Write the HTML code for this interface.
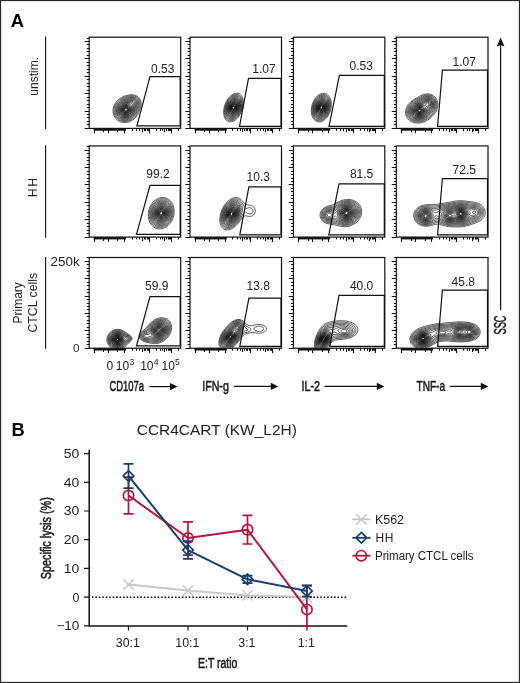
<!DOCTYPE html><html><head><meta charset="utf-8"><style>html,body{margin:0;padding:0;background:#fff;}body{width:520px;height:683px;position:relative;overflow:hidden;font-family:"Liberation Sans", sans-serif;}</style></head><body><svg width="520" height="683" viewBox="0 0 520 683" style="position:absolute;left:0;top:0;will-change:transform" font-family='"Liberation Sans", sans-serif'>
<rect x="0" y="0" width="520" height="683" fill="#fff"/>
<text x="10.8" y="26.9" font-size="18.3" text-anchor="start" font-weight="bold" fill="#000" >A</text>
<text x="11.6" y="435.6" font-size="18.3" text-anchor="start" font-weight="bold" fill="#000" >B</text>
<line x1="45.6" y1="36.6" x2="45.6" y2="129" stroke="#111" stroke-width="1.1"/>
<line x1="45.6" y1="145.3" x2="45.6" y2="237.7" stroke="#111" stroke-width="1.1"/>
<line x1="45.6" y1="256.9" x2="45.6" y2="348.8" stroke="#111" stroke-width="1.1"/>
<text transform="translate(38.4,76.3) rotate(-90)" font-size="12" text-anchor="middle" fill="#222">unstim.</text>
<text transform="translate(37.2,187.6) rotate(-90)" font-size="12.2" text-anchor="middle" fill="#222" textLength="19.2" lengthAdjust="spacing">HH</text>
<text transform="translate(21.6,302.8) rotate(-90)" font-size="12" text-anchor="middle" fill="#222">Primary</text>
<text transform="translate(37.3,302.7) rotate(-90)" font-size="12.3" text-anchor="middle" fill="#222">CTCL cells</text>
<text x="79.6" y="265.8" font-size="12.3" text-anchor="end" font-weight="normal" fill="#222" textLength="29" lengthAdjust="spacingAndGlyphs">250k</text>
<text x="79.4" y="351.9" font-size="11.6" text-anchor="end" font-weight="normal" fill="#222" >0</text>
<text x="106.4" y="369.5" font-size="12" text-anchor="start" font-weight="normal" fill="#222" >0</text>
<text x="115.8" y="369.5" font-size="12" text-anchor="start" font-weight="normal" fill="#222" >10</text>
<text x="129.6" y="365.3" font-size="8.6" text-anchor="start" font-weight="normal" fill="#222" >3</text>
<text x="140.2" y="369.5" font-size="12" text-anchor="start" font-weight="normal" fill="#222" >10</text>
<text x="153.7" y="365.3" font-size="8.6" text-anchor="start" font-weight="normal" fill="#222" >4</text>
<text x="161.5" y="369.5" font-size="12" text-anchor="start" font-weight="normal" fill="#222" >10</text>
<text x="174.9" y="365.3" font-size="8.6" text-anchor="start" font-weight="normal" fill="#222" >5</text>
<path d="M126.7,122.48 123.45,122.55 120.45,121.84 117.95,120.54 115.7,118.49 114.08,115.95 113.14,112.95 112.98,109.95 113.51,106.95 114.64,104.2 116.45,101.53 118.7,99.32 121.45,97.47 124.95,95.91 128.45,94.97 131.7,94.7 134.7,95.12 136.45,95.78 138.2,96.93 139.45,98.23 140.46,99.95 141.01,101.7 141.21,103.7 141.06,105.7 140.49,108.2 138.27,113.7 136.89,115.95 135.2,117.99 133.2,119.75 131.2,121.01 129.2,121.87 126.7,122.48 M126.95,121.45 123.95,121.6 121.2,121.04 118.7,119.81 116.59,117.95 114.97,115.45 114.12,112.7 113.99,109.7 114.53,106.95 115.6,104.45 117.36,101.95 119.45,99.97 121.95,98.32 125.45,96.79 128.95,95.87 131.95,95.65 134.7,96.1 136.45,96.87 137.7,97.77 138.77,98.95 139.61,100.45 140.11,102.2 140.23,103.95 139.52,107.95 137.27,113.45 136.04,115.45 134.62,117.2 132.95,118.74 130.95,120.06 128.95,120.94 126.95,121.45 M125.45,120.71 122.95,120.54 120.45,119.72 118.2,118.23 116.62,116.45 115.38,113.95 114.89,111.45 115.02,108.7 115.75,106.2 116.95,103.95 118.7,101.83 120.95,100 123.45,98.6 126.7,97.35 129.95,96.63 132.7,96.58 134.95,97.13 136.47,97.95 137.81,99.2 138.6,100.45 139.17,102.2 139.31,103.95 139.12,105.7 137.63,110.45 135.46,114.7 132.7,117.8 130.95,119.04 129.2,119.9 127.2,120.49 125.45,120.71 M126.7,119.74 124.2,119.85 121.7,119.31 119.7,118.29 117.91,116.7 116.62,114.7 115.83,112.2 115.74,109.7 116.26,107.2 117.29,104.95 118.77,102.95 120.7,101.2 122.95,99.8 125.95,98.52 129.45,97.56 131.95,97.36 134.2,97.75 135.45,98.31 136.64,99.2 137.46,100.2 138.08,101.45 138.41,102.95 138.41,104.45 137.6,107.95 135.66,112.7 133.45,115.95 131.95,117.36 130.45,118.39 128.45,119.3 126.7,119.74 M126.7,118.96 124.2,119.06 121.95,118.55 119.95,117.48 118.35,115.95 117.27,114.2 116.6,111.95 116.54,109.45 117.07,107.2 118.02,105.2 119.34,103.45 121.2,101.8 123.2,100.57 126.2,99.3 129.45,98.37 131.95,98.15 133.95,98.51 135.2,99.11 136.2,99.94 136.94,100.95 137.43,102.2 137.56,104.7 136.62,108.2 134.76,112.7 132.7,115.64 129.95,117.8 126.7,118.96 M126.7,118.23 124.45,118.35 122.2,117.85 120.45,116.91 118.92,115.45 117.87,113.7 117.3,111.7 117.27,109.45 117.82,107.2 118.7,105.45 119.95,103.84 121.45,102.51 123.45,101.28 126.45,100.04 129.7,99.1 131.95,98.92 133.7,99.26 134.95,99.91 135.78,100.7 136.4,101.7 136.76,102.95 136.62,105.45 135.33,109.45 133.79,112.95 131.95,115.4 129.45,117.27 126.7,118.23 M126.95,117.5 124.95,117.69 122.95,117.37 121.2,116.56 119.63,115.2 118.53,113.45 118,111.7 117.93,109.7 118.44,107.45 119.33,105.7 120.45,104.28 121.95,102.98 123.7,101.94 126.45,100.83 129.95,99.82 131.95,99.68 133.45,99.99 134.45,100.54 135.2,101.27 135.73,102.2 136.01,103.45 135.76,105.7 134.27,110.2 133,112.95 131.45,114.96 129.45,116.52 126.95,117.5 M126.45,116.95 124.45,117.01 122.7,116.59 121.2,115.76 119.87,114.45 119.03,112.95 118.58,111.2 118.59,109.45 119.11,107.45 119.91,105.95 120.95,104.66 122.2,103.58 123.95,102.55 129.95,100.58 131.7,100.43 133.2,100.76 134.66,101.95 135.1,102.95 135.22,103.95 134.89,105.95 133.16,111.2 132.09,113.2 130.45,115.05 128.45,116.34 126.45,116.95 M125.45,116.45 123.95,116.32 122.45,115.8 121.18,114.95 120.11,113.7 119.41,112.2 119.14,110.45 119.32,108.7 119.86,107.2 121.7,104.75 124.45,103.01 130.2,101.32 131.7,101.24 132.95,101.59 134.06,102.7 134.36,104.45 133.01,109.7 132.14,111.95 130.95,113.73 129.3,115.2 127.45,116.11 125.45,116.45 M126.7,115.74 124.95,115.88 123.45,115.59 122.15,114.95 120.95,113.86 120.12,112.45 119.74,110.95 119.79,109.2 120.24,107.7 121.77,105.45 124.2,103.76 126.2,103.05 129.7,102.25 131.2,102.11 132.2,102.33 133.17,103.2 133.43,104.45 132.54,108.95 131.85,111.2 130.87,112.95 129.71,114.2 128.2,115.2 126.7,115.74 M126.45,115.25 124.95,115.34 123.7,115.09 122.45,114.48 121.33,113.45 120.61,112.2 120.29,110.95 120.29,109.45 120.7,107.95 122.2,105.75 124.45,104.25 128.45,103.3 130.45,103.13 131.45,103.34 132.11,103.95 132.34,105.2 131.91,108.95 131.26,111.2 130.4,112.7 129.2,113.95 127.95,114.75 126.45,115.25 M126.45,114.74 125.2,114.84 123.95,114.62 122.7,114.01 121.82,113.2 121.19,112.2 120.81,110.95 120.77,109.7 121.04,108.45 122.45,106.21 124.45,104.83 127.2,104.13 128.95,104.09 130.2,104.33 130.97,104.95 131.34,106.2 131.34,108.7 130.9,110.7 130.14,112.2 129.2,113.3 127.95,114.19 126.45,114.74 M126.45,114.25 124.2,114.18 122.45,113.14 121.75,112.2 121.36,111.2 121.39,108.95 122.41,106.95 124.2,105.5 126.45,104.8 128.7,104.9 129.82,105.45 130.47,106.45 130.77,108.2 130.59,109.95 130.04,111.45 129.14,112.7 127.95,113.66 126.45,114.25 M126.7,113.71 124.95,113.85 123.2,113.15 122.04,111.7 121.71,109.95 122.15,108.2 123.45,106.54 125.2,105.58 127.2,105.33 128.68,105.7 129.57,106.45 130.11,107.7 130.2,109.2 129.87,110.7 129.18,111.95 127.95,113.12 126.7,113.71 M126.7,113.25 125.2,113.43 123.7,112.93 122.55,111.7 122.16,110.2 122.41,108.7 123.37,107.2 124.7,106.27 126.45,105.84 127.95,106.08 128.89,106.7 129.5,107.7 129.71,108.95 129.48,110.45 128.83,111.7 127.95,112.59 126.7,113.25 M125.95,112.98 124.7,112.89 123.45,112.16 122.72,110.95 122.64,109.45 123.12,108.2 124.2,107.05 125.45,106.46 126.95,106.36 127.95,106.71 128.75,107.45 129.16,108.45 129.2,109.7 128.8,110.95 128.06,111.95 126.96,112.7 125.95,112.98 M126.45,112.46 125.2,112.56 124.2,112.2 123.43,111.45 123.01,110.2 123.2,108.95 123.95,107.79 124.95,107.09 126.2,106.79 127.2,106.93 128.06,107.45 128.57,108.2 128.79,109.2 128.65,110.2 128.17,111.2 127.44,111.95 126.45,112.46 M126.45,112.04 125.45,112.17 124.45,111.85 123.78,111.2 123.43,110.2 123.53,109.2 124.1,108.2 124.95,107.54 125.95,107.23 126.95,107.34 127.61,107.7 128.17,108.45 128.35,109.2 128.23,110.2 127.86,110.95 126.45,112.04 M126.2,111.71 125.45,111.77 124.59,111.45 123.97,110.7 123.82,109.95 123.94,109.2 124.45,108.39 125.2,107.85 125.95,107.65 126.7,107.72 127.45,108.18 127.94,109.45 127.45,110.86 126.2,111.71 M126.45,111.22 125.7,111.39 124.95,111.2 124.24,110.2 124.48,108.95 125.7,108.09 126.95,108.33 127.5,109.2 127.28,110.45 126.45,111.22 M125.95,110.98 124.95,110.7 124.6,109.95 124.95,108.94 125.95,108.45 126.74,108.7 127.13,109.7 126.7,110.59 125.95,110.98" fill="none" stroke="#000" stroke-width="0.62" stroke-linejoin="round"/>
<rect x="89.2" y="37.2" width="91.5" height="91.2" fill="none" stroke="#111" stroke-width="1.2"/>
<path d="M84.6,128.5H89.2M86.8,124.5H89.2M86.8,121.5H89.2M86.8,117.5H89.2M86.8,114.5H89.2M84.6,111.5H89.2M86.8,107.5H89.2M86.8,104.5H89.2M86.8,100.5H89.2M86.8,97.5H89.2M84.6,93.5H89.2M86.8,90.5H89.2M86.8,86.5H89.2M86.8,83.5H89.2M86.8,79.5H89.2M84.6,76.5H89.2M86.8,72.5H89.2M86.8,69.5H89.2M86.8,65.5H89.2M86.8,62.5H89.2M84.6,58.5H89.2M86.8,55.5H89.2M86.8,51.5H89.2M86.8,48.5H89.2M86.8,44.5H89.2M84.6,41.5H89.2M86.8,38.5H89.2M94.5,128.4V133.2M108.5,128.4V133.2M124.5,128.4V133.2M149.5,128.4V133.2M171.5,128.4V133.2M103.5,128.4V132.2M117.5,128.4V132.2M132.5,128.4V130.9M136.5,128.4V130.9M139.5,128.4V130.9M142.5,128.4V132.2M144.5,128.4V130.9M145.5,128.4V130.9M147.5,128.4V130.9M148.5,128.4V130.9M156.5,128.4V130.9M160.5,128.4V130.9M162.5,128.4V130.9M164.5,128.4V132.2M166.5,128.4V130.9M168.5,128.4V130.9M169.5,128.4V130.9M170.5,128.4V130.9M178.5,128.4V130.9" stroke="#111" stroke-width="1.1"/>
<rect x="93.7" y="128.4" width="32.3" height="2.3" fill="#111"/>
<path d="M136.9,125.8L150,76.6L180.2,76.6L180.2,125.8Z" fill="none" stroke="#111" stroke-width="1.2"/>
<text x="151.1" y="72.6" font-size="12" text-anchor="start" font-weight="normal" fill="#222" >0.53</text>
<path d="M231.75,121.72 229.75,121.84 227.75,121.25 226.07,119.95 224.87,118.2 224.03,115.95 223.62,113.45 223.63,110.45 224.09,107.45 224.87,104.7 226.15,101.7 227.8,98.95 229.75,96.6 231.75,94.89 234,93.66 236,93.17 238,93.29 239.5,93.89 240.83,94.95 241.94,96.45 242.72,98.2 243.21,100.2 243.43,102.7 242.88,107.7 241.14,112.7 238.52,116.95 237,118.65 235.25,120.11 233.5,121.13 231.75,121.72 M231.25,120.73 229.5,120.66 227.75,119.94 226.38,118.7 225.32,116.95 224.67,114.95 224.34,112.45 224.44,109.7 224.93,106.95 225.89,103.95 227.08,101.45 228.53,99.2 230.25,97.22 232,95.77 234,94.71 236,94.25 237.75,94.4 239.07,94.95 240.31,95.95 241.38,97.45 242.11,99.2 242.67,103.2 242.1,107.95 240.37,112.7 237.75,116.7 236.25,118.24 234.5,119.55 232.75,120.39 231.25,120.73 M231.5,119.71 229.75,119.64 228.25,119.03 227,117.93 226.05,116.45 225.36,114.45 225.05,112.2 225.11,109.7 225.59,106.95 226.39,104.45 227.55,101.95 228.83,99.95 230.5,98.01 232.25,96.58 234,95.67 235.75,95.26 237.25,95.36 238.5,95.83 239.75,96.79 240.63,97.95 241.41,99.7 241.97,103.45 241.43,107.95 239.89,112.2 237.47,115.95 236,117.46 234.5,118.58 233,119.33 231.5,119.71 M232,118.72 230.5,118.79 229,118.34 227.75,117.41 226.72,115.95 226.05,114.2 225.7,111.95 225.74,109.7 226.09,107.45 226.83,104.95 227.83,102.7 229.06,100.7 230.5,98.97 232,97.66 233.75,96.66 235.5,96.21 237,96.3 238.25,96.8 239.25,97.59 240.09,98.7 240.77,100.2 241.32,103.7 240.88,107.7 239.59,111.45 237.45,114.95 234.75,117.52 233.25,118.34 232,118.72 M232.5,117.77 231,117.94 229.5,117.58 228.5,116.93 227.47,115.7 226.78,114.2 226.35,112.2 226.29,110.2 226.56,107.95 227.15,105.7 228.08,103.45 229.08,101.7 230.5,99.87 232,98.5 233.5,97.59 235,97.12 236.5,97.12 237.75,97.55 238.65,98.2 239.47,99.2 240.1,100.45 240.7,103.45 240.41,107.2 239.32,110.7 237.47,113.95 235,116.5 232.5,117.77 M232.5,116.99 231,117.11 229.75,116.77 228.75,116.08 227.87,114.95 227.23,113.45 226.9,111.7 227.14,107.7 227.69,105.7 228.66,103.45 230.98,100.2 232.25,99.1 233.75,98.26 235.25,97.88 236.5,97.97 238.28,98.95 239.07,99.95 239.66,101.2 240.16,104.2 239.83,107.45 238.64,110.95 236.97,113.7 234.75,115.9 232.5,116.99 M232.5,116.26 231.25,116.36 230,116.01 229,115.28 228.25,114.25 227.65,112.7 227.4,111.2 227.64,107.7 228.95,103.95 231.01,100.95 232.25,99.84 233.5,99.09 235,98.65 236.25,98.72 238,99.72 239.17,101.7 239.63,104.45 239.33,107.45 238.34,110.45 236.71,113.2 234.75,115.16 232.5,116.26 M232.75,115.51 231.5,115.65 230.5,115.43 229.5,114.79 228.75,113.85 227.92,111.2 228.11,107.7 229.33,104.2 231.25,101.44 232.5,100.34 233.75,99.65 235,99.35 236,99.42 237.5,100.21 238.64,101.95 239.13,104.45 238.91,107.2 238.07,109.95 236.67,112.45 234.75,114.47 232.75,115.51 M232.25,114.96 231.25,114.93 230.25,114.52 228.94,112.95 228.34,110.45 228.6,107.45 229.68,104.45 231.5,101.87 233.75,100.29 235.75,100.07 237.25,100.89 238.32,102.7 238.68,104.95 238.37,107.7 237.37,110.45 235.89,112.7 234,114.34 232.25,114.96 M232.75,114.26 231,114.17 230.23,113.7 229.5,112.82 228.8,110.45 228.96,107.7 229.88,104.95 231.5,102.52 233.5,101 234.5,100.69 235.5,100.69 236.94,101.45 237.86,102.95 238.23,104.95 238.06,107.2 237.27,109.7 236,111.88 234.5,113.4 232.75,114.26 M232.5,113.73 231,113.49 229.75,112.17 229.19,109.95 229.41,107.45 230.31,104.95 231.92,102.7 233.75,101.46 235.5,101.32 236.75,102.1 237.51,103.45 237.83,105.45 237.56,107.7 236.74,109.95 235.5,111.84 234,113.16 232.5,113.73 M233.25,113 231.75,113.13 231,112.81 230.37,112.2 229.67,110.45 229.68,107.95 230.47,105.45 231.77,103.45 233.5,102.11 235.25,101.87 236.32,102.45 237.1,103.7 237.41,105.2 237.29,107.2 236.69,109.2 235.75,110.89 234.5,112.26 233.25,113 M233.25,112.48 231.75,112.55 230.64,111.7 230.04,110.2 230.04,107.95 230.74,105.7 232,103.77 233.5,102.62 235,102.39 236,102.89 236.72,103.95 237.04,105.45 236.93,107.2 236.42,108.95 235.61,110.45 234.5,111.72 233.25,112.48 M233.25,111.98 232,112.06 230.88,111.2 230.35,109.7 230.39,107.95 230.99,105.95 232,104.32 233.25,103.25 234.75,102.89 235.75,103.36 236.34,104.2 236.66,105.45 236.59,107.2 236.16,108.7 235.37,110.2 234.25,111.41 233.25,111.98 M233.25,111.51 232,111.51 231.1,110.7 230.69,109.45 230.76,107.7 231.34,105.95 232.36,104.45 233.5,103.59 234.75,103.42 235.5,103.8 236.09,104.7 236.34,105.95 236.26,107.2 235.82,108.7 235.13,109.95 234.25,110.92 233.25,111.51 M233.25,111.05 232.25,111.06 231.46,110.45 231.02,109.2 231.08,107.7 231.56,106.2 232.5,104.8 233.5,104.05 234.5,103.88 235.25,104.22 235.76,104.95 235.99,105.95 235.94,107.2 235,109.58 234.25,110.45 233.25,111.05 M233.5,110.5 232.5,110.63 231.75,110.1 231.34,108.95 231.38,107.7 231.77,106.45 232.58,105.2 233.5,104.5 234.5,104.37 235.08,104.7 235.5,105.37 235.63,107.2 234.88,109.2 233.5,110.5 M233,110.21 232.25,109.99 231.84,109.45 231.63,108.45 231.73,107.45 232.75,105.49 233.5,104.93 234.25,104.8 234.75,105.01 235.22,105.7 235.29,107.45 234.5,109.22 233.75,109.93 233,110.21 M233.25,109.74 232.68,109.7 232.15,109.2 231.94,108.45 232.03,107.45 233,105.69 233.75,105.26 234.25,105.27 234.92,105.95 235,107.45 234.32,108.95 233.25,109.74 M233.5,109.24 233,109.32 232.5,109.02 232.26,107.7 232.94,106.2 234,105.68 234.62,106.2 234.75,107.2 234.31,108.45 233.5,109.24 M233.5,108.83 232.75,108.69 232.55,107.7 233.13,106.45 234,106.13 234.42,106.7 234.42,107.45 234,108.41 233.5,108.83" fill="none" stroke="#000" stroke-width="0.62" stroke-linejoin="round"/>
<rect x="190" y="37.2" width="91.5" height="91.2" fill="none" stroke="#111" stroke-width="1.2"/>
<path d="M185.4,128.5H190M187.6,124.5H190M187.6,121.5H190M187.6,117.5H190M187.6,114.5H190M185.4,111.5H190M187.6,107.5H190M187.6,104.5H190M187.6,100.5H190M187.6,97.5H190M185.4,93.5H190M187.6,90.5H190M187.6,86.5H190M187.6,83.5H190M187.6,79.5H190M185.4,76.5H190M187.6,72.5H190M187.6,69.5H190M187.6,65.5H190M187.6,62.5H190M185.4,58.5H190M187.6,55.5H190M187.6,51.5H190M187.6,48.5H190M187.6,44.5H190M185.4,41.5H190M187.6,38.5H190M195.5,128.4V133.2M209.5,128.4V133.2M225.5,128.4V133.2M250.5,128.4V133.2M272.5,128.4V133.2M204.5,128.4V132.2M218.5,128.4V132.2M232.5,128.4V130.9M237.5,128.4V130.9M240.5,128.4V130.9M242.5,128.4V132.2M244.5,128.4V130.9M246.5,128.4V130.9M247.5,128.4V130.9M249.5,128.4V130.9M257.5,128.4V130.9M260.5,128.4V130.9M263.5,128.4V130.9M265.5,128.4V132.2M267.5,128.4V130.9M268.5,128.4V130.9M270.5,128.4V130.9M271.5,128.4V130.9M279.5,128.4V130.9" stroke="#111" stroke-width="1.1"/>
<rect x="194.5" y="128.4" width="32.3" height="2.3" fill="#111"/>
<path d="M239.5,126.3L248.5,78.3L281,78.3L281,126.3Z" fill="none" stroke="#111" stroke-width="1.2"/>
<text x="252.3" y="72.5" font-size="12" text-anchor="start" font-weight="normal" fill="#222" >1.07</text>
<path d="M319.65,121.97 317.65,121.81 315.9,121.09 314.21,119.7 312.96,117.95 312,115.7 311.45,113.2 311.28,110.2 311.57,107.2 312.29,104.2 313.36,101.45 314.76,98.95 316.53,96.7 318.65,94.86 320.65,93.77 322.65,93.26 324.65,93.33 326.4,93.94 327.9,95.01 329.15,96.46 330.21,98.45 330.86,100.45 331.26,102.95 331.3,105.45 330.99,108.2 330.32,110.95 329.49,113.2 328.34,115.45 326.77,117.7 325.15,119.4 323.4,120.7 321.65,121.54 319.65,121.97 M320.65,120.75 318.65,120.85 316.9,120.36 315.4,119.4 313.93,117.7 312.93,115.7 312.27,113.2 312.05,110.7 312.21,107.95 312.76,105.2 313.73,102.45 315.04,99.95 316.52,97.95 318.15,96.36 320.15,95.07 322.15,94.42 324.15,94.38 325.65,94.81 327.15,95.75 328.4,97.1 329.33,98.7 330.05,100.7 330.43,102.7 330.56,104.95 330.36,107.45 329.1,112.2 326.91,116.2 325.43,117.95 323.9,119.26 322.4,120.15 320.65,120.75 M320.65,119.75 318.9,119.84 317.15,119.35 315.65,118.32 314.5,116.95 313.52,114.95 312.99,112.95 312.75,110.45 312.93,107.7 313.54,104.95 314.48,102.45 315.74,100.2 317.1,98.45 318.65,97.02 320.4,95.96 322.15,95.41 323.9,95.39 325.4,95.83 326.65,96.62 327.7,97.7 328.63,99.2 329.31,100.95 329.72,102.95 329.71,107.2 328.56,111.7 326.55,115.45 325.15,117.12 323.65,118.4 322.15,119.27 320.65,119.75 M321.15,118.71 319.4,118.92 317.9,118.63 316.4,117.78 315.17,116.45 314.34,114.95 313.71,112.95 313.42,110.7 313.51,108.2 313.98,105.7 314.74,103.45 315.74,101.45 317.15,99.46 318.65,97.99 320.4,96.88 322.15,96.34 323.65,96.31 324.9,96.65 326.15,97.38 327.15,98.38 328,99.7 329.02,102.95 329.1,106.95 328.08,111.2 326.25,114.7 323.9,117.25 322.65,118.09 321.15,118.71 M320.65,117.97 319.15,118.02 317.65,117.56 316.4,116.66 315.43,115.45 314.7,113.95 314.22,112.2 314.02,110.2 314.14,107.95 314.52,105.95 315.27,103.7 316.3,101.7 317.59,99.95 318.9,98.69 320.4,97.74 321.9,97.24 323.4,97.18 324.65,97.5 325.81,98.2 326.78,99.2 327.55,100.45 328.48,103.7 328.47,107.2 327.55,110.95 325.84,114.2 323.4,116.74 321.9,117.6 320.65,117.97 M320.4,117.21 319.15,117.18 317.9,116.77 316.78,115.95 315.8,114.7 315.13,113.2 314.71,111.45 314.58,109.45 314.76,107.45 315.99,103.45 317.96,100.45 319.15,99.33 320.65,98.42 322.15,98 323.4,98.01 324.65,98.41 325.65,99.09 327.16,101.2 327.95,104.2 327.85,107.7 326.85,111.2 325.1,114.2 322.9,116.26 321.65,116.9 320.4,117.21 M320.4,116.46 319.15,116.4 317.9,115.89 316.9,115.05 316.15,113.98 315.51,112.45 315.2,110.95 315.28,107.45 316.33,103.95 318.28,100.95 320.65,99.17 321.9,98.78 323.15,98.75 324.15,99.02 325.15,99.63 326.7,101.7 327.42,104.45 327.33,107.7 326.51,110.7 324.79,113.7 322.65,115.66 320.4,116.46 M320.65,115.73 319.4,115.7 318.4,115.36 317.4,114.61 316.65,113.62 315.73,110.95 315.76,107.45 316.75,104.2 318.55,101.45 319.65,100.47 320.9,99.76 322.15,99.45 323.15,99.49 324.9,100.32 326.28,102.2 326.93,104.7 326.85,107.7 325.99,110.7 324.52,113.2 322.65,114.94 320.65,115.73 M321.15,114.97 319.9,115.09 318.9,114.84 317.9,114.2 317.24,113.45 316.23,110.95 316.15,107.95 317.02,104.7 318.56,102.2 320.65,100.53 321.9,100.14 322.9,100.14 324.64,100.95 325.78,102.45 326.44,104.7 326.46,107.2 325.8,109.95 324.65,112.2 322.9,114.08 321.15,114.97 M320.4,114.46 318.65,113.99 317.27,112.45 316.56,109.95 316.69,107.2 317.62,104.45 319.15,102.27 320.9,101.04 321.9,100.76 322.9,100.79 324.4,101.54 325.54,103.2 326.06,105.45 325.91,107.95 325.13,110.45 323.89,112.45 322.15,113.94 320.4,114.46 M321.15,113.76 319.4,113.69 317.9,112.48 317.08,110.45 316.99,107.95 317.61,105.45 318.92,103.2 320.65,101.75 321.65,101.39 322.65,101.37 324.15,102.09 325.11,103.45 325.6,105.2 325.59,107.45 325.01,109.7 324.09,111.45 322.65,113.01 321.15,113.76 M321.15,113.2 320.15,113.28 319.4,113.07 318.15,111.95 317.46,110.2 317.38,107.95 318.03,105.45 319.15,103.58 320.65,102.31 322.4,101.92 323.65,102.4 324.65,103.6 325.17,105.2 325.23,107.2 324.78,109.2 323.77,111.2 322.61,112.45 321.15,113.2 M320.9,112.72 319.4,112.45 318.4,111.45 317.79,109.7 317.78,107.7 318.32,105.7 319.4,103.91 320.9,102.72 322.4,102.47 323.65,103.08 324.44,104.2 324.84,105.7 324.79,107.7 324.3,109.45 323.4,111.04 322.15,112.23 320.9,112.72 M320.9,112.21 319.65,111.99 318.63,110.95 318.14,109.45 318.17,107.45 318.83,105.45 319.9,103.96 321.15,103.13 322.4,103.01 323.4,103.53 324.15,104.62 324.49,105.95 324.43,107.7 324.02,109.2 323.15,110.74 322.15,111.7 320.9,112.21 M320.9,111.71 319.72,111.45 318.9,110.55 318.47,109.2 318.51,107.45 318.97,105.95 319.9,104.51 320.9,103.73 322.15,103.49 323.15,103.95 323.85,104.95 324.15,106.2 324.09,107.7 323.65,109.2 322.9,110.46 321.9,111.36 320.9,111.71 M320.9,111.24 319.9,111 319.18,110.2 318.8,108.95 318.84,107.45 319.33,105.95 320.15,104.78 321.15,104.09 322.15,103.99 322.9,104.35 323.52,105.2 323.82,106.45 323.76,107.7 323.4,108.96 322.65,110.2 321.9,110.87 320.9,111.24 M321.15,110.74 320.15,110.6 319.5,109.95 319.14,108.95 319.13,107.7 319.46,106.45 320.15,105.3 320.9,104.67 321.9,104.43 322.65,104.73 323.15,105.34 323.45,106.2 323.48,107.45 322.65,109.64 321.9,110.4 321.15,110.74 M321.4,110.22 320.65,110.29 319.9,109.82 319.49,108.95 319.44,107.7 319.8,106.45 320.4,105.54 321.15,105 321.9,104.9 322.4,105.1 322.91,105.7 323.17,107.45 322.56,109.2 321.4,110.22 M321.4,109.79 320.65,109.83 320.15,109.48 319.72,107.95 319.91,106.95 320.4,106.05 320.9,105.57 321.65,105.33 322.15,105.46 322.61,105.95 322.88,107.2 322.4,108.86 321.4,109.79 M321.65,109.22 320.9,109.43 320.45,109.2 320.02,107.95 320.5,106.45 321,105.95 321.65,105.76 322.32,106.2 322.58,107.2 322.4,108.2 321.65,109.22 M321.15,109.01 320.65,108.83 320.4,108.45 320.37,107.45 320.9,106.46 321.65,106.2 322.18,106.7 322.24,107.7 321.9,108.51 321.15,109.01" fill="none" stroke="#000" stroke-width="0.62" stroke-linejoin="round"/>
<rect x="293.4" y="37.2" width="91.4" height="91.2" fill="none" stroke="#111" stroke-width="1.2"/>
<path d="M288.8,128.5H293.4M291,124.5H293.4M291,121.5H293.4M291,117.5H293.4M291,114.5H293.4M288.8,111.5H293.4M291,107.5H293.4M291,104.5H293.4M291,100.5H293.4M291,97.5H293.4M288.8,93.5H293.4M291,90.5H293.4M291,86.5H293.4M291,83.5H293.4M291,79.5H293.4M288.8,76.5H293.4M291,72.5H293.4M291,69.5H293.4M291,65.5H293.4M291,62.5H293.4M288.8,58.5H293.4M291,55.5H293.4M291,51.5H293.4M291,48.5H293.4M291,44.5H293.4M288.8,41.5H293.4M291,38.5H293.4M298.5,128.4V133.2M312.5,128.4V133.2M328.5,128.4V133.2M353.5,128.4V133.2M375.5,128.4V133.2M308.5,128.4V132.2M322.5,128.4V132.2M336.5,128.4V130.9M340.5,128.4V130.9M343.5,128.4V130.9M346.5,128.4V132.2M348.5,128.4V130.9M349.5,128.4V130.9M351.5,128.4V130.9M352.5,128.4V130.9M360.5,128.4V130.9M364.5,128.4V130.9M367.5,128.4V130.9M369.5,128.4V132.2M370.5,128.4V130.9M372.5,128.4V130.9M373.5,128.4V130.9M374.5,128.4V130.9M382.5,128.4V130.9" stroke="#111" stroke-width="1.1"/>
<rect x="297.9" y="128.4" width="32.3" height="2.3" fill="#111"/>
<path d="M329,126.3L339.4,75.4L384.3,75.4L384.3,126.3Z" fill="none" stroke="#111" stroke-width="1.2"/>
<text x="349.6" y="69.6" font-size="12" text-anchor="start" font-weight="normal" fill="#222" >0.53</text>
<path d="M420.05,122.95 416.8,123.09 413.55,122.53 410.55,121.2 408.13,119.2 406.46,116.7 405.62,113.95 405.61,110.7 406.43,107.7 408.28,104.45 411.05,101.52 414.05,99.33 419.8,96.09 423.05,94.6 425.8,93.89 428.55,93.83 431.3,94.5 433.3,95.57 434.92,96.95 436.27,98.7 437.25,100.7 437.82,102.95 437.95,105.2 437.65,107.45 436.95,109.7 435.82,111.95 434.24,114.2 432.23,116.45 429.8,118.61 427.3,120.34 425.05,121.5 422.55,122.42 420.05,122.95 M420.3,121.95 417.05,122.13 414.05,121.62 411.3,120.42 409.05,118.59 407.45,116.2 406.69,113.7 406.64,110.95 407.42,107.95 409.13,104.95 411.8,102.15 414.8,100.04 420.55,96.86 423.3,95.56 426.05,94.82 428.55,94.77 431.05,95.4 432.8,96.34 434.3,97.63 435.51,99.2 436.36,100.95 436.88,102.95 437.01,104.95 436.77,106.95 436.18,108.95 435.22,110.95 433.69,113.2 431.55,115.64 429.3,117.71 427.05,119.34 424.8,120.57 422.55,121.43 420.3,121.95 M419.05,121.22 416.05,121.12 413.3,120.36 411.05,119.07 409.3,117.31 408.14,115.2 407.59,112.7 407.74,110.2 408.67,107.45 410.48,104.7 413.05,102.29 415.8,100.52 422.55,96.89 424.8,96 427.05,95.6 429.3,95.77 431.3,96.45 432.8,97.4 434.12,98.7 435.1,100.2 435.79,101.95 436.11,103.7 436.08,105.7 435.66,107.7 434.96,109.45 433.77,111.45 432.01,113.7 429.8,116.01 427.55,117.9 425.3,119.33 423.3,120.25 421.3,120.87 419.05,121.22 M420.3,120.25 417.55,120.43 414.8,119.97 412.55,118.99 410.55,117.36 409.15,115.2 408.55,112.95 408.61,110.45 409.38,107.95 411.14,105.2 413.55,102.95 415.8,101.5 423.05,97.61 425.05,96.79 427.05,96.42 429.05,96.54 430.8,97.1 432.05,97.83 433.29,98.95 434.2,100.2 434.89,101.7 435.25,103.2 435.33,104.95 435.08,106.7 434.48,108.45 433.53,110.2 432.06,112.2 427.8,116.62 424.05,119.05 420.3,120.25 M420.3,119.48 417.55,119.66 415.05,119.21 412.8,118.16 411.12,116.7 409.89,114.7 409.38,112.7 409.45,110.45 410.26,107.95 411.94,105.45 414.3,103.34 423.8,98.14 425.55,97.46 427.3,97.18 429.05,97.31 430.55,97.81 432.8,99.51 433.64,100.7 434.28,102.2 434.56,105.2 433.72,108.2 431.35,111.7 427.05,116.2 423.8,118.34 420.3,119.48 M418.55,118.96 416.3,118.77 414.3,118.12 412.55,116.99 411.2,115.45 410.41,113.7 410.13,111.7 410.48,109.45 411.37,107.45 412.8,105.56 414.8,103.86 420.55,100.94 424.55,98.62 426.3,98.03 427.8,97.89 429.3,98.1 430.8,98.74 431.8,99.49 432.8,100.66 433.79,103.2 433.72,105.95 432.59,108.7 428.51,113.7 425.55,116.46 422.05,118.31 418.55,118.96 M419.55,118.23 417.3,118.24 415.3,117.77 413.55,116.84 412.13,115.45 411.2,113.7 410.88,111.95 411.08,109.95 411.87,107.95 413.34,105.95 415.3,104.32 421.29,101.45 424.8,99.29 426.05,98.81 427.55,98.58 429.05,98.75 430.3,99.24 432.05,100.76 433.06,102.95 433.13,105.45 432.2,107.95 427.72,113.45 425.55,115.6 422.8,117.32 419.55,118.23 M420.3,117.49 418.05,117.67 416.05,117.33 414.3,116.52 412.83,115.2 411.96,113.7 411.58,111.95 411.71,110.2 412.46,108.2 413.8,106.37 415.8,104.73 421.55,102.19 425.3,99.82 427.8,99.25 430.05,99.85 431.57,101.2 432.46,103.2 432.46,105.45 431.69,107.45 425.33,114.95 423.05,116.52 420.3,117.49 M420.05,116.96 418.05,117.08 416.3,116.76 414.55,115.91 413.3,114.71 412.5,113.2 412.23,111.7 412.42,109.95 413.16,108.2 414.54,106.45 416.3,105.1 418.05,104.23 422.05,102.79 425.8,100.33 427.8,99.9 429.8,100.45 431.05,101.56 431.81,103.2 431.86,105.2 431.2,106.95 424.8,114.62 422.55,116.13 420.05,116.96 M419.8,116.45 418.05,116.52 416.3,116.15 414.8,115.33 413.71,114.2 413.01,112.7 412.85,111.2 413.11,109.7 413.82,108.2 415.05,106.72 416.55,105.58 418.55,104.65 422.45,103.45 426.05,100.95 427.8,100.56 429.55,101.06 430.55,101.97 431.22,103.45 431.2,105.2 430.58,106.7 427.8,109.75 425.77,112.7 424.42,114.2 422.3,115.66 419.8,116.45 M419.55,115.97 417.8,115.96 416.3,115.55 415.05,114.79 414.1,113.7 413.56,112.45 413.44,110.95 413.79,109.45 414.46,108.2 415.56,106.95 417.05,105.89 419.05,105.06 423.05,104.06 426.3,101.59 427.8,101.25 429.3,101.7 430.24,102.7 430.63,103.95 430.52,105.2 429.92,106.45 427.3,109.06 425.23,112.45 423.9,113.95 421.8,115.33 419.55,115.97 M419.55,115.47 418.05,115.48 416.55,115.07 415.52,114.45 414.61,113.45 414.09,112.2 414,110.95 414.36,109.45 415.05,108.24 416.55,106.78 418.3,105.85 423.8,104.72 425.94,102.7 426.8,102.18 428.05,102.02 429.05,102.44 429.67,103.2 429.9,103.95 429.83,104.95 429.36,105.95 426.6,108.45 425.04,111.7 423.7,113.45 421.8,114.8 419.55,115.47 M419.8,114.97 418.3,115.02 417.05,114.73 416.05,114.19 415.1,113.2 414.65,112.2 414.52,110.95 414.8,109.7 415.49,108.45 417.05,107 419.05,106.1 420.8,105.81 424.8,105.8 426.8,103.23 427.55,102.96 428.46,103.2 428.96,103.95 428.8,105.1 428.05,105.93 426.3,106.7 425.8,107.2 424.98,110.45 423.92,112.45 422.05,114.13 419.8,114.97 M420.05,114.47 417.8,114.46 415.97,113.45 415.41,112.7 415.07,111.7 415.31,109.7 416.55,107.95 418.3,106.84 420.55,106.35 423.01,106.7 424.05,107.38 424.47,108.2 424.55,109.45 424.19,110.95 423.51,112.2 422.55,113.23 421.3,114.04 420.05,114.47 M420.3,113.97 418.3,114.1 416.8,113.51 415.73,112.2 415.54,110.7 416.24,108.95 417.55,107.71 419.3,106.98 421.3,106.88 422.55,107.26 423.41,107.95 423.86,108.95 423.89,109.95 423.54,111.2 422.73,112.45 421.55,113.42 420.3,113.97 M419.55,113.7 418.05,113.6 416.8,112.91 416.08,111.7 416.11,110.2 417,108.7 418.3,107.76 420.05,107.3 421.55,107.47 422.49,107.95 423.1,108.7 423.34,109.7 423.21,110.7 422.75,111.7 421.86,112.7 420.8,113.36 419.55,113.7 M420.05,113.2 418.8,113.31 417.55,112.91 416.67,111.95 416.46,110.7 416.92,109.45 417.8,108.52 419.05,107.9 420.55,107.74 421.55,108.01 422.3,108.56 422.69,109.2 422.81,110.2 422.04,111.95 421.18,112.7 420.05,113.2 M420.3,112.72 419.05,112.93 418.05,112.69 417.3,112.09 416.92,111.2 417.01,110.2 417.55,109.28 418.55,108.51 419.55,108.18 420.55,108.18 421.35,108.45 421.95,108.95 422.29,109.7 422.3,110.45 421.9,111.45 421.22,112.2 420.3,112.72 M419.8,112.48 418.8,112.5 418.05,112.2 417.44,111.45 417.34,110.7 417.56,109.95 418.3,109.1 419.3,108.63 420.3,108.57 421.52,109.2 421.84,110.45 421.2,111.7 419.8,112.48 M420.05,112.02 418.55,112 418.05,111.62 417.77,110.95 418.2,109.7 419.55,108.96 420.8,109.18 421.37,109.95 421.11,111.2 420.05,112.02 M419.8,111.73 419.05,111.76 418.55,111.52 418.18,110.7 418.73,109.7 419.8,109.32 420.73,109.7 420.97,110.45 420.63,111.2 419.8,111.73" fill="none" stroke="#000" stroke-width="0.62" stroke-linejoin="round"/>
<rect x="396.3" y="37.2" width="91.7" height="91.2" fill="none" stroke="#111" stroke-width="1.2"/>
<path d="M391.7,128.5H396.3M393.9,124.5H396.3M393.9,121.5H396.3M393.9,117.5H396.3M393.9,114.5H396.3M391.7,111.5H396.3M393.9,107.5H396.3M393.9,104.5H396.3M393.9,100.5H396.3M393.9,97.5H396.3M391.7,93.5H396.3M393.9,90.5H396.3M393.9,86.5H396.3M393.9,83.5H396.3M393.9,79.5H396.3M391.7,76.5H396.3M393.9,72.5H396.3M393.9,69.5H396.3M393.9,65.5H396.3M393.9,62.5H396.3M391.7,58.5H396.3M393.9,55.5H396.3M393.9,51.5H396.3M393.9,48.5H396.3M393.9,44.5H396.3M391.7,41.5H396.3M393.9,38.5H396.3M401.5,128.4V133.2M415.5,128.4V133.2M431.5,128.4V133.2M456.5,128.4V133.2M478.5,128.4V133.2M411.5,128.4V132.2M425.5,128.4V132.2M439.5,128.4V130.9M443.5,128.4V130.9M446.5,128.4V130.9M449.5,128.4V132.2M451.5,128.4V130.9M452.5,128.4V130.9M454.5,128.4V130.9M455.5,128.4V130.9M463.5,128.4V130.9M467.5,128.4V130.9M469.5,128.4V130.9M472.5,128.4V132.2M473.5,128.4V130.9M475.5,128.4V130.9M476.5,128.4V130.9M477.5,128.4V130.9M485.5,128.4V130.9" stroke="#111" stroke-width="1.1"/>
<rect x="400.8" y="128.4" width="32.3" height="2.3" fill="#111"/>
<path d="M437.6,126.3L442.4,70.2L487.5,70.2L487.5,126.3Z" fill="none" stroke="#111" stroke-width="1.2"/>
<text x="452.6" y="65.8" font-size="12" text-anchor="start" font-weight="normal" fill="#222" >1.07</text>
<path d="M161.2,228.9 158.45,228.92 155.95,228.28 153.7,227.06 151.62,225.15 150.08,222.9 148.85,219.9 148.26,216.9 148.21,213.65 148.77,210.15 149.79,207.15 151.25,204.4 153.2,201.89 155.7,199.71 158.2,198.32 160.95,197.53 163.45,197.43 165.7,197.85 167.95,198.85 169.95,200.38 171.65,202.4 172.88,204.65 173.79,207.4 174.19,210.15 174.18,212.9 173.77,215.65 172.86,218.65 171.52,221.4 169.95,223.65 168.03,225.65 165.95,227.18 163.7,228.27 161.2,228.9 M161.45,227.66 158.95,227.75 156.7,227.26 154.45,226.12 152.5,224.4 150.93,222.15 149.87,219.65 149.29,216.9 149.19,213.9 149.6,210.9 150.54,207.9 151.81,205.4 153.68,202.9 155.7,201.05 158.2,199.56 160.7,198.78 162.95,198.62 165.2,198.98 167.2,199.82 169.06,201.15 170.62,202.9 171.81,204.9 172.64,207.15 173.13,209.65 173.22,212.4 172.88,215.15 172.09,217.9 171.08,220.15 169.64,222.4 167.95,224.29 165.95,225.88 163.7,227.05 161.45,227.66 M160.45,226.66 158.2,226.5 156.2,225.84 154.2,224.55 152.64,222.9 151.31,220.65 150.53,218.4 150.11,215.65 150.18,212.9 150.72,210.15 151.64,207.65 153.08,205.15 154.77,203.15 156.7,201.56 158.95,200.39 161.2,199.81 163.45,199.78 165.45,200.25 167.2,201.11 168.8,202.4 170.22,204.15 171.27,206.15 171.97,208.4 172.3,210.9 172.23,213.4 171.78,215.9 170.91,218.4 169.72,220.65 168.2,222.65 166.45,224.29 164.45,225.57 162.45,226.34 160.45,226.66 M161.95,225.43 159.7,225.64 157.7,225.3 155.95,224.54 154.16,223.15 152.77,221.4 151.78,219.4 151.12,216.9 150.94,214.4 151.17,211.9 151.84,209.4 152.98,206.9 154.45,204.8 156.2,203.08 158.2,201.78 160.2,201.03 162.45,200.76 164.45,201.03 166.2,201.72 167.7,202.75 169.04,204.15 170.13,205.9 170.84,207.65 171.34,209.9 171.46,212.15 171.24,214.4 170.68,216.65 169.87,218.65 168.68,220.65 167.22,222.4 165.7,223.7 163.95,224.74 161.95,225.43 M160.7,224.66 158.7,224.55 156.95,223.98 155.27,222.9 153.95,221.53 152.81,219.65 152.11,217.65 151.76,215.4 151.79,213.15 152.25,210.65 153.09,208.4 154.24,206.4 155.7,204.65 157.45,203.23 159.2,202.31 161.2,201.79 162.95,201.75 164.7,202.12 166.2,202.83 167.7,204.02 168.83,205.4 169.76,207.15 170.38,209.15 170.65,211.15 170.6,213.4 169.58,217.4 168.55,219.4 167.26,221.15 165.7,222.63 164.2,223.62 162.45,224.34 160.7,224.66 M161.45,223.69 159.7,223.77 157.95,223.41 156.41,222.65 154.95,221.4 153.86,219.9 152.99,217.9 152.55,215.9 152.48,213.65 152.81,211.4 153.45,209.4 154.47,207.4 155.7,205.77 157.2,204.39 158.95,203.33 160.7,202.76 162.45,202.61 163.95,202.84 165.45,203.43 166.84,204.4 167.98,205.65 168.88,207.15 169.53,208.9 169.92,212.65 169.67,214.65 169.09,216.65 167.31,219.9 164.7,222.37 162.95,223.28 161.45,223.69 M160.95,222.92 159.2,222.86 157.7,222.4 156.2,221.47 155.14,220.4 154.18,218.9 153.52,217.15 153.18,215.15 153.21,213.15 153.57,211.15 154.3,209.15 155.3,207.4 156.45,206.02 157.95,204.77 159.45,203.97 160.95,203.54 162.7,203.47 164.2,203.8 165.45,204.39 166.7,205.38 167.7,206.6 168.98,209.65 169.2,213.15 168.36,216.65 166.45,219.84 163.95,221.94 162.45,222.61 160.95,222.92 M160.7,222.16 159.2,222.06 157.7,221.53 156.45,220.68 155.45,219.59 154.61,218.15 154.09,216.65 153.82,214.9 153.87,212.9 154.89,209.4 155.75,207.9 156.95,206.48 158.2,205.46 159.7,204.67 161.2,204.28 162.7,204.26 163.95,204.55 165.2,205.16 166.2,205.95 167.2,207.17 167.96,208.65 168.4,210.15 168.54,213.4 167.67,216.65 165.94,219.4 163.45,221.39 161.95,221.97 160.7,222.16 M160.95,221.41 159.45,221.35 158.2,220.95 156.95,220.16 155.98,219.15 155.22,217.9 154.68,216.4 154.45,213.15 155.32,209.9 157.2,207.13 158.45,206.09 159.7,205.42 160.95,205.05 162.45,204.99 163.7,205.25 164.95,205.87 166.7,207.65 167.75,210.15 167.96,213.15 167.23,216.15 165.7,218.72 163.45,220.62 160.95,221.41 M161.45,220.65 160.2,220.73 158.95,220.49 157.7,219.87 156.7,218.98 155.39,216.65 154.99,213.65 155.62,210.65 157.29,207.9 158.45,206.85 159.7,206.13 160.95,205.75 162.2,205.67 164.45,206.37 166.08,207.9 167.13,210.15 167.4,212.9 166.82,215.65 165.6,217.9 163.7,219.72 161.45,220.65 M161.7,219.94 159.45,219.94 157.45,218.84 156.65,217.9 156,216.65 155.52,213.9 156,211.15 157.45,208.58 159.45,206.93 160.7,206.46 161.95,206.32 163.95,206.85 165.5,208.15 166.54,210.15 166.87,212.65 166.43,215.15 165.28,217.4 163.7,219 161.7,219.94 M161.2,219.41 159.2,219.2 157.39,217.9 156.33,215.9 156.06,213.4 156.65,210.9 157.95,208.82 159.95,207.34 161.95,206.95 163.7,207.43 165.2,208.74 166.12,210.65 166.35,212.9 165.89,215.15 164.7,217.29 162.95,218.81 161.2,219.41 M161.7,218.72 159.95,218.78 158.19,217.9 156.97,216.15 156.54,213.9 156.97,211.4 158.12,209.4 159.7,208.08 161.7,207.55 163.45,207.97 164.7,209.01 165.57,210.65 165.86,212.65 165.55,214.65 164.7,216.44 163.34,217.9 161.7,218.72 M161.45,218.21 159.7,218.12 158.22,217.15 157.33,215.65 157.01,213.65 157.38,211.65 158.45,209.76 159.95,208.55 161.7,208.12 163.2,208.49 164.45,209.57 165.2,211.15 165.39,212.9 165.06,214.65 164.14,216.4 162.95,217.55 161.45,218.21 M161.45,217.66 159.95,217.61 158.7,216.88 157.75,215.4 157.46,213.65 157.76,211.9 158.74,210.15 160.2,209 161.7,208.67 162.95,208.99 164.05,209.9 164.7,211.15 164.93,212.9 164.67,214.4 163.93,215.9 162.7,217.12 161.45,217.66 M161.2,217.17 159.95,217.05 158.72,216.15 158.08,214.9 157.91,213.4 158.22,211.9 159.12,210.4 160.45,209.43 161.7,209.21 162.95,209.6 163.8,210.4 164.36,211.65 164.48,213.15 164.12,214.65 163.45,215.8 162.45,216.71 161.2,217.17 M161.2,216.66 160.2,216.58 159.15,215.9 158.55,214.9 158.33,213.4 158.67,211.9 159.45,210.69 160.45,209.96 161.7,209.72 162.7,210.05 163.45,210.75 163.97,211.9 164.06,213.15 163.77,214.4 163.2,215.41 162.2,216.31 161.2,216.66 M161.2,216.16 160.2,216.04 159.35,215.4 158.85,214.4 158.76,213.15 159.12,211.9 159.7,211.06 160.7,210.37 161.7,210.23 162.45,210.48 163.16,211.15 163.58,212.15 163.65,213.15 163.43,214.15 162.87,215.15 162.2,215.77 161.2,216.16 M161.2,215.68 160.45,215.61 159.7,215.1 159.3,214.4 159.15,213.4 159.34,212.4 159.95,211.4 160.7,210.87 161.45,210.71 162.2,210.9 162.78,211.4 163.15,212.15 163.25,213.15 162.53,214.9 161.2,215.68 M161.2,215.2 160.45,215.09 159.95,214.69 159.59,213.9 159.56,213.15 160.2,211.74 161.45,211.19 162.45,211.72 162.85,213.15 162.41,214.4 161.2,215.2 M161.45,214.67 160.45,214.54 159.95,213.65 160.2,212.39 161.2,211.67 162,211.9 162.47,212.9 162.2,214.01 161.45,214.67" fill="none" stroke="#000" stroke-width="0.62" stroke-linejoin="round"/>
<rect x="89.2" y="145.9" width="91.5" height="91.2" fill="none" stroke="#111" stroke-width="1.2"/>
<path d="M84.6,237.5H89.2M86.8,233.5H89.2M86.8,230.5H89.2M86.8,226.5H89.2M86.8,223.5H89.2M84.6,219.5H89.2M86.8,216.5H89.2M86.8,212.5H89.2M86.8,209.5H89.2M86.8,205.5H89.2M84.6,202.5H89.2M86.8,198.5H89.2M86.8,195.5H89.2M86.8,191.5H89.2M86.8,188.5H89.2M84.6,184.5H89.2M86.8,181.5H89.2M86.8,178.5H89.2M86.8,174.5H89.2M86.8,171.5H89.2M84.6,167.5H89.2M86.8,164.5H89.2M86.8,160.5H89.2M86.8,157.5H89.2M86.8,153.5H89.2M84.6,150.5H89.2M86.8,146.5H89.2M94.5,237.1V241.9M108.5,237.1V241.9M124.5,237.1V241.9M149.5,237.1V241.9M171.5,237.1V241.9M103.5,237.1V240.9M117.5,237.1V240.9M132.5,237.1V239.6M136.5,237.1V239.6M139.5,237.1V239.6M142.5,237.1V240.9M144.5,237.1V239.6M145.5,237.1V239.6M147.5,237.1V239.6M148.5,237.1V239.6M156.5,237.1V239.6M160.5,237.1V239.6M162.5,237.1V239.6M164.5,237.1V240.9M166.5,237.1V239.6M168.5,237.1V239.6M169.5,237.1V239.6M170.5,237.1V239.6M178.5,237.1V239.6" stroke="#111" stroke-width="1.1"/>
<rect x="93.7" y="237.1" width="32.3" height="2.3" fill="#111"/>
<path d="M136.5,234.3L150,185.3L180.2,185.3L180.2,234.3Z" fill="none" stroke="#111" stroke-width="1.2"/>
<text x="146.3" y="178.2" font-size="12" text-anchor="start" font-weight="normal" fill="#222" >99.2</text>
<path d="M228.25,229.93 226.5,229.94 225,229.59 223.5,228.82 222.21,227.65 221.18,226.15 220.35,224.15 219.87,221.9 219.72,219.65 220.29,214.65 221.94,209.65 224.61,204.9 228,201.04 230.5,199.17 233,197.97 235.5,197.46 237.75,197.64 239.5,198.3 241,199.32 244.5,203.32 245.75,204.36 247,204.78 251.25,205.43 252.75,206.18 253.85,207.15 254.91,208.9 255.28,211.15 254.75,213.34 253.5,215.04 252,216 250.5,216.41 248.75,216.41 245.5,215.82 244,216.17 242.5,217.51 238.12,223.4 235.25,226.4 231.75,228.82 230,229.54 228.25,229.93 M228.75,228.65 226.5,228.64 224.5,227.91 222.98,226.65 221.7,224.65 220.9,222.15 220.62,219.4 220.85,216.15 221.59,212.9 222.82,209.65 224.43,206.65 226.45,203.9 228.5,201.83 231,200.05 233.25,199.09 235.5,198.72 237.5,198.99 239.42,199.9 241.06,201.4 242.28,203.15 245,208.1 246,208.47 249.5,207.62 251.25,208.04 252.08,208.65 252.76,209.65 253.01,210.65 252.87,211.9 252.5,212.67 251.75,213.45 250,214.04 248.14,213.65 245.5,212.04 244.5,212.25 243,214.08 238.87,220.9 236.02,224.4 232.5,227.24 230.5,228.2 228.75,228.65 M229.5,227.41 227.5,227.58 225.5,227.07 223.85,225.9 222.61,224.15 221.8,221.9 221.47,219.4 221.58,216.65 222.16,213.65 223.18,210.65 224.55,207.9 226.24,205.4 228.25,203.18 230.25,201.59 232.5,200.43 234.75,199.92 236.75,200.08 238.25,200.68 239.5,201.61 240.58,202.9 241.42,204.4 242.13,206.4 242.48,208.4 242.45,210.4 242.1,212.15 241.14,214.9 239.84,217.65 236.71,222.4 235,224.23 233.25,225.66 231.25,226.82 229.5,227.41 M229.25,226.45 227.5,226.49 225.75,225.95 224.25,224.77 223.19,223.15 222.52,221.15 222.23,218.65 222.38,216.15 222.95,213.4 223.93,210.65 225.36,207.9 226.96,205.65 228.75,203.77 230.75,202.28 232.75,201.35 234.75,200.99 236.5,201.2 237.75,201.74 239,202.75 240,204.11 240.69,205.65 241.14,207.4 241.29,209.4 240.67,213.4 238.69,218.15 235.94,222.15 232.75,225 231,225.93 229.25,226.45 M229.75,225.41 228,225.53 226.25,225.04 225,224.13 223.94,222.65 223.29,220.9 222.96,218.65 223.06,216.15 223.55,213.65 224.4,211.15 225.65,208.65 227.21,206.4 228.75,204.74 230.5,203.37 232.5,202.37 234.25,202 236,202.16 237.25,202.69 238.25,203.49 239.14,204.65 239.83,206.15 240.37,209.65 239.84,213.4 238.18,217.65 235.75,221.31 232.75,224.06 231.25,224.9 229.75,225.41 M230.25,224.41 228.5,224.63 227,224.32 225.75,223.55 224.63,222.15 223.94,220.4 223.63,218.4 223.69,216.15 224.1,213.9 224.84,211.65 225.91,209.4 227.22,207.4 228.76,205.65 230.5,204.24 232.25,203.33 234,202.93 235.5,203.04 236.75,203.55 237.75,204.37 239.08,206.65 239.59,209.9 239.13,213.4 237.85,216.9 235.67,220.4 233,223.02 230.25,224.41 M230,223.66 228.5,223.76 227.25,223.45 226,222.59 225.12,221.4 224.54,219.9 224.26,218.15 224.29,216.15 224.69,213.9 225.43,211.65 226.41,209.65 227.56,207.9 229,206.27 230.5,205.05 232.25,204.14 233.75,203.8 235.25,203.92 236.25,204.33 237.25,205.14 238.42,207.15 238.9,210.15 238.43,213.65 237.08,217.15 235,220.29 232.5,222.55 230,223.66 M229.75,222.93 228.5,222.93 227.25,222.5 226.22,221.65 225.45,220.4 224.98,218.9 224.82,217.15 225.37,213.4 227.01,209.65 229.5,206.6 231,205.49 232.25,204.9 233.75,204.6 235,204.73 236.75,205.81 237.91,207.9 238.26,210.9 237.71,214.15 236.35,217.4 234.38,220.15 232,222.11 229.75,222.93 M230,222.17 228.75,222.18 227.5,221.73 226.57,220.9 225.96,219.9 225.55,218.65 225.37,216.9 225.88,213.4 227.44,209.9 229.75,207.11 232.25,205.61 233.5,205.36 234.75,205.5 235.75,205.98 236.46,206.65 237.44,208.65 237.69,211.15 237.18,214.15 235.91,217.15 234.25,219.5 232.25,221.25 230,222.17 M230.25,221.44 229,221.48 228,221.15 227.25,220.59 226.56,219.65 226.09,218.4 225.89,216.9 226.3,213.65 227.68,210.4 229.75,207.81 231,206.87 232.25,206.28 233.5,206.07 234.5,206.21 235.94,207.15 236.88,208.9 237.15,211.4 236.68,214.15 235.66,216.65 234,219.04 232.25,220.57 230.25,221.44 M230.75,220.67 229.75,220.84 228.75,220.69 227.79,220.15 227.15,219.4 226.42,217.15 226.63,214.15 227.76,211.15 229.58,208.65 231.75,207.11 233,206.77 234,206.82 235.47,207.65 236.34,209.15 236.66,211.15 236.41,213.4 235.54,215.9 234.25,218.01 232.5,219.76 230.75,220.67 M230.25,220.17 229.25,220.13 228.5,219.84 227.28,218.4 226.84,216.15 227.26,213.4 228.5,210.71 230.25,208.66 232.25,207.53 234,207.52 235.25,208.38 235.99,209.9 236.17,211.9 235.77,214.15 234.81,216.4 233.5,218.22 232,219.5 230.25,220.17 M231,219.41 229.25,219.47 228,218.52 227.34,216.65 227.48,214.15 228.41,211.65 230,209.49 231.75,208.28 233.5,208.05 234.65,208.65 235.44,209.9 235.72,211.4 235.54,213.4 234.88,215.4 233.84,217.15 232.5,218.56 231,219.41 M230.75,218.92 229.25,218.8 228.13,217.65 227.72,215.9 228.01,213.65 228.84,211.65 230.25,209.83 232,208.74 233.5,208.69 234.5,209.35 235.08,210.4 235.3,212.15 235.02,213.9 234.33,215.65 233.25,217.25 232,218.37 230.75,218.92 M230.5,218.42 229.25,218.13 228.45,217.15 228.13,215.65 228.39,213.65 229.25,211.68 230.5,210.16 232,209.27 233.25,209.23 234.23,209.9 234.73,210.9 234.88,212.4 234.56,214.15 233.77,215.9 232.81,217.15 231.75,217.99 230.5,218.42 M231.25,217.73 230,217.83 229.04,217.15 228.57,215.9 228.64,214.15 229.39,212.15 230.5,210.69 231.75,209.87 233,209.76 233.75,210.18 234.32,211.15 234.49,212.4 234.33,213.65 233.17,216.15 232.25,217.13 231.25,217.73 M231.25,217.23 230.25,217.33 229.31,216.65 228.95,215.65 229,214.15 229.51,212.65 230.5,211.22 231.75,210.36 232.75,210.27 233.5,210.69 233.92,211.4 234.1,212.4 233.97,213.65 232.91,215.9 231.25,217.23 M231.25,216.75 230.5,216.83 229.74,216.4 229.32,215.4 229.35,214.15 229.75,212.9 230.59,211.65 231.5,210.95 232.5,210.76 233,210.96 233.54,211.65 233.73,212.65 233.62,213.65 232.75,215.54 231.25,216.75 M231.5,216.18 230.75,216.34 230,215.94 229.68,215.15 229.69,214.15 230.12,212.9 230.75,211.99 231.5,211.42 232.25,211.25 232.75,211.42 233.15,211.9 233.32,213.4 232.75,214.95 231.5,216.18 M231.5,215.72 231,215.86 230.41,215.65 230.03,214.9 230.03,214.15 230.84,212.4 231.5,211.87 232.25,211.76 232.89,212.4 232.94,213.65 232.4,214.9 231.5,215.72 M231.5,215.27 231,215.37 230.6,215.15 230.41,213.9 231,212.72 232,212.23 232.54,212.65 232.61,213.65 232.25,214.55 231.5,215.27" fill="none" stroke="#000" stroke-width="0.62" stroke-linejoin="round"/>
<rect x="190" y="145.9" width="91.5" height="91.2" fill="none" stroke="#111" stroke-width="1.2"/>
<path d="M185.4,237.5H190M187.6,233.5H190M187.6,230.5H190M187.6,226.5H190M187.6,223.5H190M185.4,219.5H190M187.6,216.5H190M187.6,212.5H190M187.6,209.5H190M187.6,205.5H190M185.4,202.5H190M187.6,198.5H190M187.6,195.5H190M187.6,191.5H190M187.6,188.5H190M185.4,184.5H190M187.6,181.5H190M187.6,178.5H190M187.6,174.5H190M187.6,171.5H190M185.4,167.5H190M187.6,164.5H190M187.6,160.5H190M187.6,157.5H190M187.6,153.5H190M185.4,150.5H190M187.6,146.5H190M195.5,237.1V241.9M209.5,237.1V241.9M225.5,237.1V241.9M250.5,237.1V241.9M272.5,237.1V241.9M204.5,237.1V240.9M218.5,237.1V240.9M232.5,237.1V239.6M237.5,237.1V239.6M240.5,237.1V239.6M242.5,237.1V240.9M244.5,237.1V239.6M246.5,237.1V239.6M247.5,237.1V239.6M249.5,237.1V239.6M257.5,237.1V239.6M260.5,237.1V239.6M263.5,237.1V239.6M265.5,237.1V240.9M267.5,237.1V239.6M268.5,237.1V239.6M270.5,237.1V239.6M271.5,237.1V239.6M279.5,237.1V239.6" stroke="#111" stroke-width="1.1"/>
<rect x="194.5" y="237.1" width="32.3" height="2.3" fill="#111"/>
<path d="M239.8,234.9L248.9,186.8L281,186.8L281,234.9Z" fill="none" stroke="#111" stroke-width="1.2"/>
<text x="246.6" y="181.1" font-size="12" text-anchor="start" font-weight="normal" fill="#222" >10.3</text>
<path d="M346.4,226.66 343.4,226.71 340.4,226.31 334.4,224.76 327.9,223.77 325.9,223.11 324.15,222.19 322.8,221.15 321.67,219.9 320.77,218.4 320.24,216.9 320.02,215.4 320.13,213.65 320.54,212.15 321.3,210.65 323.03,208.65 325.4,207.09 327.4,206.3 332.9,204.79 339.4,201.34 343.15,199.97 346.65,199.39 350.15,199.51 353.4,200.32 356.15,201.69 357.75,202.9 359.18,204.4 360.34,206.15 361.19,208.15 361.64,210.15 361.73,212.15 361.5,214.15 360.83,216.4 359.86,218.4 358.45,220.4 356.9,222.04 355.15,223.44 351.15,225.55 348.9,226.24 346.4,226.66 M345.65,225.65 341.9,225.44 334.65,223.49 328.4,222.87 326.4,222.3 324.9,221.57 323.63,220.65 322.46,219.4 321.21,216.9 320.96,215.4 321.04,213.9 322.08,211.15 323.65,209.33 325.65,208.01 327.9,207.18 333.57,205.9 339.9,202.29 343.4,200.98 346.4,200.46 349.65,200.52 352.65,201.21 355.15,202.39 356.86,203.65 358.15,204.99 359.27,206.65 360.03,208.4 360.45,210.15 360.57,212.15 360.33,214.15 359.73,216.15 358.73,218.15 357.48,219.9 355.9,221.52 354.15,222.87 350.15,224.81 347.9,225.39 345.65,225.65 M345.9,224.66 342.15,224.44 335.15,222.3 328.9,222.02 327.15,221.63 325.65,220.99 323.4,219.18 322.14,216.9 321.87,214.4 322.66,211.9 324.15,210.05 326.15,208.74 328.4,208 333.9,207.11 339.65,203.54 343.4,201.97 346.15,201.45 349.15,201.45 351.9,202.02 354.15,203.01 355.65,204.02 357.09,205.4 358.15,206.9 358.87,208.4 359.34,210.15 359.5,211.9 359.3,213.9 358.81,215.65 358,217.4 356.82,219.15 353.9,221.88 350.15,223.81 348.15,224.36 345.9,224.66 M346.9,223.67 344.4,223.77 341.9,223.42 335.15,221.01 329.4,221.19 326.4,220.45 324.4,219.05 323.13,217.15 322.69,214.9 323.22,212.65 324.45,210.9 326.4,209.54 328.9,208.8 332.9,208.61 334.4,208.25 339.9,204.46 343.15,202.98 345.65,202.4 348.15,202.28 350.4,202.57 352.65,203.31 355.47,205.15 356.61,206.4 357.55,207.9 358.13,209.4 358.46,211.15 358.45,212.9 358.13,214.65 356.6,217.9 354.06,220.65 350.65,222.68 346.9,223.67 M346.15,222.91 343.9,222.87 341.65,222.43 335.4,219.71 334.15,219.68 329.9,220.36 328.4,220.24 326.9,219.8 325.14,218.65 323.91,216.9 323.52,214.9 324,212.9 325.4,211.11 327.65,209.91 329.9,209.57 333.65,209.78 334.9,209.44 339.9,205.47 343.4,203.76 345.65,203.23 347.9,203.1 350.15,203.39 352.15,204.05 354.9,205.87 356.75,208.4 357.3,209.9 357.56,211.65 357.12,214.9 355.56,217.9 352.9,220.5 349.65,222.19 346.15,222.91 M345.9,222.15 343.65,222.04 341.4,221.47 339.4,220.53 336.4,218.58 335.4,218.21 334.4,218.26 330.15,219.52 328.65,219.48 327.15,219.05 325.65,218.04 324.69,216.65 324.34,215.15 324.66,213.4 325.99,211.65 328.15,210.59 330.4,210.45 333.9,211.15 335.15,210.9 339.9,206.45 341.65,205.34 343.65,204.48 345.65,204 347.65,203.87 349.65,204.09 351.4,204.62 354.15,206.34 355.9,208.65 356.46,210.15 356.7,211.65 356.32,214.65 354.75,217.65 352.4,219.91 349.4,221.47 345.9,222.15 M346.15,221.42 343.4,221.23 340.65,220.26 338.9,219.11 335.4,216 334.65,216.15 332.72,217.65 331.15,218.43 329.4,218.73 327.9,218.49 326.65,217.84 325.6,216.65 325.2,215.4 325.36,213.9 325.9,212.89 326.9,211.97 327.9,211.49 329.15,211.25 331.4,211.57 334.4,213.18 335.15,213.23 335.9,212.51 338.88,208.4 340.4,207.01 342.15,205.89 344.15,205.07 346.4,204.63 348.65,204.67 350.65,205.14 353.31,206.65 355.11,208.9 355.88,211.65 355.58,214.4 354.2,217.15 352.15,219.21 349.4,220.72 346.15,221.42 M346.9,220.67 345.15,220.75 343.4,220.51 341.9,220.02 340.33,219.15 338.9,217.92 337.92,216.65 337.24,215.15 337.1,213.9 337.48,212.15 338.33,210.4 339.43,208.9 340.9,207.51 342.4,206.52 344.15,205.77 346.15,205.33 347.9,205.28 350.9,206 353.28,207.65 354.72,209.9 355.14,212.65 354.43,215.4 352.64,217.9 349.9,219.79 346.9,220.67 M330.4,217.71 329.15,217.86 328.06,217.65 327.15,217.14 326.34,216.15 326.08,215.15 326.22,214.15 326.82,213.15 327.65,212.52 328.9,212.14 330.4,212.25 331.73,212.9 332.61,213.9 332.88,214.9 332.51,216.15 331.56,217.15 330.4,217.71 M347.4,219.95 344.15,219.98 342.65,219.57 341.15,218.82 340,217.9 338.99,216.65 338.4,215.4 338.16,214.15 338.29,212.65 338.81,211.15 339.72,209.65 340.86,208.4 343.65,206.63 346.9,205.91 349.65,206.25 352.15,207.56 353.82,209.65 354.44,212.15 354.01,214.65 352.47,217.15 350.15,218.96 347.4,219.95 M330.15,216.67 328.65,216.77 327.42,215.9 327.2,214.65 327.9,213.58 328.65,213.21 329.65,213.16 330.4,213.42 331.15,214.11 331.41,214.9 331.26,215.65 330.15,216.67 M346.9,219.43 343.9,219.3 342.4,218.76 341.15,217.97 340.15,216.97 339.48,215.9 339.06,214.65 338.99,213.4 339.29,211.9 339.86,210.65 341.81,208.4 343.15,207.52 344.65,206.89 347.65,206.52 350.15,207.1 352.09,208.4 353.4,210.4 353.76,212.65 353.22,214.9 351.65,217.12 349.4,218.68 346.9,219.43 M346.4,218.92 343.65,218.61 341.4,217.33 340.04,215.4 339.73,214.15 339.75,212.9 340.09,211.65 340.75,210.4 342.65,208.49 345.4,207.27 348.15,207.15 350.15,207.77 351.93,209.15 352.97,211.15 353.08,213.15 352.42,215.15 350.9,217.04 348.9,218.3 346.4,218.92 M347.65,218.17 345.15,218.36 342.9,217.66 341.19,216.15 340.44,214.4 340.57,212.15 341.65,210.15 343.65,208.5 345.9,207.71 348.15,207.7 350.15,208.43 351.73,209.9 352.45,211.65 352.39,213.65 351.44,215.65 349.65,217.3 347.65,218.17 M347.4,217.71 345.15,217.83 343.15,217.15 341.75,215.9 341.02,214.15 341.18,212.15 342.15,210.39 343.9,208.94 346.15,208.19 348.15,208.24 349.9,208.92 351.2,210.15 351.9,211.9 351.81,213.65 350.9,215.48 349.4,216.86 347.4,217.71 M347.4,217.21 345.4,217.35 343.65,216.82 342.28,215.65 341.57,213.9 341.75,212.15 342.65,210.59 344.15,209.36 346.15,208.68 347.9,208.71 349.65,209.4 350.86,210.65 351.37,212.15 351.25,213.65 350.4,215.3 349.15,216.44 347.4,217.21 M346.15,216.91 344.4,216.6 342.98,215.65 342.17,214.15 342.16,212.65 342.84,211.15 344.17,209.9 345.9,209.2 347.9,209.2 349.15,209.69 350.22,210.65 350.79,211.9 350.78,213.4 350.26,214.65 349.15,215.86 347.65,216.65 346.15,216.91 M346.65,216.42 345.15,216.34 343.73,215.65 342.9,214.61 342.61,213.15 343.08,211.65 344.15,210.47 345.65,209.72 347.15,209.57 348.49,209.9 349.55,210.65 350.17,211.65 350.34,212.9 349.99,214.15 349.15,215.26 347.9,216.08 346.65,216.42 M346.9,215.93 345.4,215.92 344.21,215.4 343.4,214.47 343.11,213.4 343.36,212.15 344.15,211.05 345.4,210.27 346.65,210 347.9,210.17 348.9,210.71 349.63,211.65 349.85,212.65 349.69,213.65 349.11,214.65 348.15,215.46 346.9,215.93 M347.15,215.44 345.9,215.56 344.9,215.27 344.1,214.65 343.64,213.65 343.68,212.65 344.19,211.65 345.06,210.9 346.15,210.49 347.15,210.45 348.15,210.77 348.91,211.4 349.34,212.4 349.28,213.4 348.9,214.2 348.15,214.95 347.15,215.44 M346.15,215.15 345.15,214.9 344.51,214.4 344.13,213.65 344.16,212.65 344.65,211.78 345.4,211.19 346.4,210.87 347.4,210.94 348.15,211.31 348.67,211.9 348.9,212.65 348.81,213.4 347.85,214.65 346.15,215.15 M346.9,214.66 345.4,214.53 344.9,214.14 344.56,213.4 344.89,212.15 346.15,211.33 347.65,211.51 348.4,212.51 348.15,213.76 346.9,214.66 M346.9,214.24 345.65,214.17 345.03,213.4 345.23,212.4 346.15,211.74 347.4,211.87 347.96,212.65 347.72,213.65 346.9,214.24" fill="none" stroke="#000" stroke-width="0.62" stroke-linejoin="round"/>
<rect x="293.4" y="145.9" width="91.4" height="91.2" fill="none" stroke="#111" stroke-width="1.2"/>
<path d="M288.8,237.5H293.4M291,233.5H293.4M291,230.5H293.4M291,226.5H293.4M291,223.5H293.4M288.8,219.5H293.4M291,216.5H293.4M291,212.5H293.4M291,209.5H293.4M291,205.5H293.4M288.8,202.5H293.4M291,198.5H293.4M291,195.5H293.4M291,191.5H293.4M291,188.5H293.4M288.8,184.5H293.4M291,181.5H293.4M291,178.5H293.4M291,174.5H293.4M291,171.5H293.4M288.8,167.5H293.4M291,164.5H293.4M291,160.5H293.4M291,157.5H293.4M291,153.5H293.4M288.8,150.5H293.4M291,146.5H293.4M298.5,237.1V241.9M312.5,237.1V241.9M328.5,237.1V241.9M353.5,237.1V241.9M375.5,237.1V241.9M308.5,237.1V240.9M322.5,237.1V240.9M336.5,237.1V239.6M340.5,237.1V239.6M343.5,237.1V239.6M346.5,237.1V240.9M348.5,237.1V239.6M349.5,237.1V239.6M351.5,237.1V239.6M352.5,237.1V239.6M360.5,237.1V239.6M364.5,237.1V239.6M367.5,237.1V239.6M369.5,237.1V240.9M370.5,237.1V239.6M372.5,237.1V239.6M373.5,237.1V239.6M374.5,237.1V239.6M382.5,237.1V239.6" stroke="#111" stroke-width="1.1"/>
<rect x="297.9" y="237.1" width="32.3" height="2.3" fill="#111"/>
<path d="M328.8,234.9L339,183.8L384.3,183.8L384.3,234.9Z" fill="none" stroke="#111" stroke-width="1.2"/>
<text x="349.9" y="178" font-size="12" text-anchor="start" font-weight="normal" fill="#222" >81.5</text>
<path d="M461.05,226.91 455.55,227.01 449.3,226.7 445.55,226.04 439.62,224.4 437.55,224.14 435.12,224.4 430.3,225.8 427.8,226.26 424.8,226.31 422.05,225.78 420.05,225 418.05,223.77 416.53,222.4 415.18,220.65 414.21,218.65 413.76,216.9 413.66,214.9 414.01,212.9 415.18,210.4 417.05,208.23 419.55,206.49 422.55,205.29 426.55,204.63 433.55,204.61 436.8,204.35 457.3,200.81 463.3,200.76 475.3,202.34 479.05,203.6 480.8,204.67 482.24,205.9 483.51,207.4 484.52,209.15 485.12,210.9 485.34,212.65 485.17,214.4 484.68,215.9 483.68,217.65 482.38,219.15 479.55,221.25 476.05,222.84 466.55,225.96 461.05,226.91 M460.05,225.9 452.05,225.87 448.3,225.56 445.05,224.85 439.8,223.09 437.55,222.71 435.3,222.97 430.55,224.68 428.05,225.28 425.3,225.43 422.55,224.98 420.8,224.34 419.05,223.32 417.41,221.9 416.25,220.4 415.38,218.65 414.92,216.9 414.83,215.15 415.11,213.4 416.24,210.9 417.97,208.9 420.3,207.29 423.05,206.23 426.8,205.71 433.3,205.96 436.3,205.77 457.8,201.84 463.05,201.83 475.55,203.53 478.8,204.71 480.3,205.7 481.58,206.9 482.68,208.4 483.39,209.9 483.78,211.4 483.85,213.15 483.58,214.65 482.97,216.15 481.97,217.65 480.8,218.84 479.3,219.96 477.3,221.01 468.05,224.33 464.05,225.43 460.05,225.9 M460.3,224.91 451.55,224.91 448.05,224.61 444.8,223.77 439.55,221.7 437.3,221.27 435.05,221.65 430.8,223.58 428.3,224.35 425.55,224.6 423.05,224.26 421.3,223.64 419.8,222.8 418.41,221.65 417.19,220.15 416.42,218.65 415.94,216.9 415.87,215.15 416.13,213.65 417.14,211.4 418.61,209.65 420.8,208.11 423.3,207.15 427.05,206.71 433.3,207.28 436.05,207.17 447.05,204.76 458.3,202.78 462.8,202.8 469.55,203.99 475.55,204.59 478.55,205.74 480.8,207.65 482.22,210.15 482.56,211.65 482.57,213.15 481.69,215.9 479.8,218.16 476.8,219.97 467.05,223.57 463.8,224.48 460.3,224.91 M461.55,223.91 451.3,224.04 448.05,223.77 444.8,222.84 439.3,220.26 437.05,219.78 435.05,220.21 431.05,222.5 428.55,223.46 426.05,223.83 423.55,223.59 420.55,222.34 419.3,221.38 418.21,220.15 417.48,218.9 416.96,217.4 416.77,215.9 416.91,214.4 417.75,212.15 419.12,210.4 421.05,208.97 423.55,207.98 427.3,207.65 433.3,208.62 435.8,208.62 446.05,205.99 458.3,203.7 462.55,203.69 469.55,205.12 475.3,205.55 477.8,206.43 479.91,208.15 481.17,210.4 481.45,212.9 480.68,215.4 479.05,217.37 476.55,218.89 471.55,220.58 466.55,222.73 464.05,223.5 461.55,223.91 M460.55,223.15 450.55,223.25 447.8,222.95 444.55,221.84 438.8,218.59 436.8,218.11 435.05,218.58 431.3,221.38 429.05,222.52 426.55,223.08 424.05,222.97 422.55,222.55 421.05,221.8 418.98,219.9 417.8,217.4 417.71,214.65 418.43,212.65 419.77,210.9 421.55,209.6 423.8,208.74 425.8,208.46 427.8,208.56 433.8,210.17 435.8,210.24 445.8,207.04 458.8,204.5 463.05,204.61 469.8,206.26 475.3,206.51 477.55,207.37 479.28,208.9 480.26,210.9 480.36,213.15 479.61,215.15 478.05,216.86 476.3,217.87 471.46,219.4 465.55,222.17 463.05,222.86 460.55,223.15 M459.8,222.4 455.3,222.27 450.3,222.53 447.05,222.05 444.3,220.83 438.3,216.45 436.3,215.61 435.05,216.24 432.11,219.65 430.05,221.25 427.3,222.3 424.3,222.34 421.8,221.46 419.69,219.65 418.57,217.4 418.45,214.9 419.16,212.9 420.3,211.42 421.8,210.29 423.8,209.49 426.05,209.21 428.55,209.53 430.92,210.4 434.8,212.52 435.8,212.7 436.8,212.35 441.05,209.82 444.8,208.29 447.8,207.5 459.05,205.25 461.3,205.2 463.55,205.49 469.8,207.39 475.3,207.47 477.3,208.31 478.65,209.65 479.36,211.4 479.34,213.15 478.57,214.9 477.05,216.34 475.3,217.15 471.05,218.34 466.8,220.74 464.8,221.59 462.3,222.21 459.8,222.4 M460.8,221.66 455.3,221.48 450.05,221.87 448.3,221.69 446.55,221.18 443.89,219.65 441.09,216.9 439.76,214.9 439.56,213.9 439.7,213.15 440.53,211.9 441.72,210.9 445.3,209.09 457.05,206.32 459.55,205.94 461.8,205.96 463.8,206.3 469.8,208.58 473.8,208.32 475.3,208.46 476.8,209.13 477.8,210.15 478.34,211.4 478.35,212.9 477.68,214.4 476.55,215.45 475.05,216.13 471.05,217.02 466.8,219.83 464.8,220.81 463.05,221.35 460.8,221.66 M427.05,221.69 424.55,221.75 422.3,221.01 420.34,219.4 419.29,217.4 419.13,215.15 419.83,213.15 421.37,211.4 423.55,210.26 426.3,209.91 429.05,210.51 431.7,212.15 432.59,213.15 433.09,214.15 433.24,215.15 433.03,216.4 431.65,218.9 429.55,220.74 427.05,221.69 M451.55,221.18 449.3,221.23 447.3,220.81 445.3,219.82 443.64,218.4 442.16,216.4 441.51,214.65 441.69,213.15 442.78,211.65 444.8,210.29 447.3,209.33 453.05,208.19 457.8,206.87 460.3,206.57 462.55,206.73 464.55,207.26 470.05,210.02 471.05,210.06 473.8,209.43 475.3,209.58 476.35,210.15 477.09,211.15 477.29,211.9 477.19,212.9 476.8,213.7 476.05,214.44 474.55,215.06 471.8,215.27 470.8,215.59 466.85,218.9 464.3,220.28 461.05,220.98 455.3,220.71 451.55,221.18 M426.55,221.17 424.3,221.1 422.3,220.31 420.75,218.9 419.84,216.9 419.85,214.9 420.78,212.9 422.3,211.52 424.3,210.71 426.8,210.62 429.05,211.32 431.05,212.89 431.94,214.65 431.88,216.65 430.68,218.9 428.8,220.43 426.55,221.17 M450.8,220.66 448.55,220.56 446.55,219.86 444.62,218.4 443.39,216.65 442.86,214.9 443.06,213.4 444.12,211.9 445.8,210.76 447.8,210 453.05,209.02 458.05,207.48 461.3,207.2 463.55,207.61 465.88,208.65 468.16,210.4 469.84,212.4 469.99,213.15 469.79,213.9 468.31,216.4 466.55,218.23 464.3,219.59 461.3,220.34 455.3,219.96 450.8,220.66 M474.55,213.43 473.46,213.4 472.6,212.9 472.44,212.15 473.03,211.4 474.3,210.96 475.38,211.4 475.65,211.9 475.57,212.65 474.55,213.43 M426.05,220.65 424.05,220.46 422.3,219.61 420.97,218.15 420.39,216.4 420.57,214.65 421.55,212.94 423.05,211.79 425.05,211.19 427.05,211.3 429.08,212.15 430.56,213.65 431.13,215.4 430.88,217.15 429.78,218.9 428.05,220.13 426.05,220.65 M451.8,219.93 449.8,220.15 448.05,219.88 446.45,219.15 445.06,217.9 444.18,216.4 443.89,214.65 444.24,213.4 445.3,212.09 446.55,211.27 448.05,210.69 453.05,209.85 457.8,208.19 460.55,207.76 462.8,208.02 464.8,208.79 466.68,210.15 468,211.9 468.37,213.65 467.77,215.65 466.3,217.55 464.3,218.94 461.3,219.76 459.3,219.74 455.3,219.21 451.8,219.93 M427.05,219.91 425.3,220.12 423.8,219.8 422.32,218.9 421.37,217.65 420.98,216.15 421.2,214.65 422.16,213.15 423.55,212.19 425.3,211.75 427.3,211.99 428.97,212.9 430.1,214.4 430.39,215.9 429.91,217.65 428.8,218.98 427.05,219.91 M451.55,219.42 449.8,219.63 448.3,219.42 446.8,218.73 445.65,217.65 444.88,216.15 444.78,214.65 445.26,213.4 446.3,212.31 448.3,211.34 453.3,210.63 457.8,208.8 460.55,208.31 462.55,208.53 464.3,209.19 465.95,210.4 467.04,211.9 467.44,213.65 466.92,215.65 465.55,217.4 463.8,218.55 462.05,219.11 460.3,219.25 455.05,218.46 451.55,219.42 M426.8,219.41 425.3,219.58 423.8,219.21 422.61,218.4 421.9,217.4 421.57,216.15 421.84,214.65 422.55,213.57 423.8,212.69 425.3,212.31 427.05,212.52 428.55,213.38 429.46,214.65 429.69,216.15 429.3,217.44 428.29,218.65 426.8,219.41 M451.3,218.93 449.8,219.13 448.3,218.89 447.05,218.25 446.05,217.19 445.54,215.9 445.57,214.65 446.05,213.61 447.05,212.65 449.3,211.79 453.55,211.47 457.8,209.4 460.55,208.83 462.3,209 464.05,209.68 465.34,210.65 466.37,212.15 466.69,213.65 466.3,215.4 465.25,216.9 463.55,218.09 462.05,218.59 460.3,218.73 454.8,217.67 451.3,218.93 M426.55,218.92 425.3,219.04 424.05,218.73 422.91,217.9 422.32,216.9 422.18,215.65 422.48,214.65 423.3,213.65 424.3,213.08 425.8,212.86 427.05,213.13 428.2,213.9 428.86,214.9 429.03,216.15 428.62,217.4 427.8,218.31 426.55,218.92 M451.05,218.45 449.8,218.63 448.55,218.45 447.55,217.96 446.72,217.15 446.25,216.15 446.24,214.9 446.7,213.9 447.55,213.11 449.8,212.37 453.8,212.44 457.8,209.99 460.55,209.32 462.3,209.51 463.8,210.13 465.03,211.15 465.8,212.4 466.04,213.9 465.65,215.4 464.55,216.83 463.05,217.77 461.55,218.18 459.8,218.2 454.8,216.72 451.05,218.45 M426.3,218.41 425.3,218.49 424.14,218.15 423.3,217.46 422.87,216.65 422.79,215.65 423.02,214.9 423.61,214.15 424.55,213.6 425.8,213.42 426.8,213.66 427.8,214.38 428.26,215.15 428.39,216.15 428.05,217.15 427.3,217.95 426.3,218.41 M450.8,217.97 448.8,217.99 448.04,217.65 447.25,216.9 446.9,216.15 446.87,215.15 447.3,214.22 448.05,213.55 449.3,213.08 450.55,213.02 454.05,214.08 457.3,210.89 458.8,210.12 460.55,209.78 462.05,209.93 463.55,210.55 464.55,211.4 465.28,212.65 465.44,214.15 465.04,215.4 464,216.65 462.55,217.47 460.8,217.78 459.05,217.56 454.3,215.18 452.31,217.15 450.8,217.97 M425.55,217.91 424.05,217.34 423.55,216.65 423.42,215.9 424.05,214.6 425.55,214.03 427.05,214.56 427.52,215.15 427.71,215.9 427.56,216.65 427.05,217.35 425.55,217.91 M462.05,217.16 460.55,217.34 459.05,217.07 457.55,216.32 456.34,215.15 455.97,214.15 456.15,213.15 456.76,212.15 457.8,211.18 459.55,210.38 461.3,210.25 463.05,210.8 464.31,211.9 464.91,213.4 464.71,214.9 463.56,216.4 462.05,217.16 M450.55,217.46 449.05,217.5 447.81,216.65 447.52,215.4 447.8,214.68 448.32,214.15 449.3,213.73 450.3,213.68 451.3,213.96 452.16,214.65 452.38,215.4 452.17,216.15 451.55,216.9 450.55,217.46 M425.8,217.16 424.8,216.97 424.3,216.4 424.38,215.4 425.05,214.85 426.17,214.9 426.84,215.65 426.65,216.65 425.8,217.16 M461.05,216.91 459.55,216.75 458.23,216.15 457.2,215.15 456.81,214.15 457.02,212.9 457.74,211.9 458.8,211.13 460.3,210.68 461.8,210.77 463.05,211.32 463.91,212.15 464.41,213.4 464.28,214.65 463.55,215.81 462.55,216.52 461.05,216.91 M450.05,216.92 449.05,216.81 448.3,215.96 448.41,215.15 449.3,214.47 450.55,214.54 451.3,215.37 450.98,216.4 450.05,216.92 M461.55,216.43 460.3,216.48 459.17,216.15 458.11,215.4 457.61,214.65 457.44,213.9 457.66,212.9 458.3,212.04 459.3,211.38 460.8,211.06 462.05,211.27 463.09,211.9 463.79,212.9 463.92,214.15 463.52,215.15 462.78,215.9 461.55,216.43 M461.8,215.95 460.8,216.11 459.8,215.95 458.35,214.9 458.04,214.15 458.05,213.4 458.39,212.65 459.05,212.01 460.05,211.55 461.3,211.49 462.41,211.9 463.17,212.65 463.5,213.65 463.31,214.65 462.75,215.4 461.8,215.95 M461.3,215.69 460.3,215.68 459.55,215.41 458.63,214.4 458.52,213.65 458.79,212.9 460.05,211.96 461.05,211.85 461.8,212.03 462.55,212.54 462.95,213.15 463.06,213.9 462.8,214.7 462.07,215.4 461.3,215.69 M461.55,215.23 460.3,215.29 459.29,214.65 459,213.65 459.58,212.65 461.05,212.23 462.33,212.9 462.59,214.15 462.3,214.7 461.55,215.23 M461.3,214.92 460.3,214.9 459.64,214.4 459.45,213.65 460.05,212.8 461.05,212.6 462.05,213.2 462.16,214.15 461.3,214.92" fill="none" stroke="#000" stroke-width="0.62" stroke-linejoin="round"/>
<rect x="396.3" y="145.9" width="91.7" height="91.2" fill="none" stroke="#111" stroke-width="1.2"/>
<path d="M391.7,237.5H396.3M393.9,233.5H396.3M393.9,230.5H396.3M393.9,226.5H396.3M393.9,223.5H396.3M391.7,219.5H396.3M393.9,216.5H396.3M393.9,212.5H396.3M393.9,209.5H396.3M393.9,205.5H396.3M391.7,202.5H396.3M393.9,198.5H396.3M393.9,195.5H396.3M393.9,191.5H396.3M393.9,188.5H396.3M391.7,184.5H396.3M393.9,181.5H396.3M393.9,178.5H396.3M393.9,174.5H396.3M393.9,171.5H396.3M391.7,167.5H396.3M393.9,164.5H396.3M393.9,160.5H396.3M393.9,157.5H396.3M393.9,153.5H396.3M391.7,150.5H396.3M393.9,146.5H396.3M401.5,237.1V241.9M415.5,237.1V241.9M431.5,237.1V241.9M456.5,237.1V241.9M478.5,237.1V241.9M411.5,237.1V240.9M425.5,237.1V240.9M439.5,237.1V239.6M443.5,237.1V239.6M446.5,237.1V239.6M449.5,237.1V240.9M451.5,237.1V239.6M452.5,237.1V239.6M454.5,237.1V239.6M455.5,237.1V239.6M463.5,237.1V239.6M467.5,237.1V239.6M469.5,237.1V239.6M472.5,237.1V240.9M473.5,237.1V239.6M475.5,237.1V239.6M476.5,237.1V239.6M477.5,237.1V239.6M485.5,237.1V239.6" stroke="#111" stroke-width="1.1"/>
<rect x="400.8" y="237.1" width="32.3" height="2.3" fill="#111"/>
<path d="M437.6,234.9L442.4,178.6L487.5,178.6L487.5,234.9Z" fill="none" stroke="#111" stroke-width="1.2"/>
<text x="452.6" y="174.3" font-size="12" text-anchor="start" font-weight="normal" fill="#222" >72.5</text>
<path d="M156.95,343.5 154.2,343.64 151.45,343.33 145.95,342.16 142.95,341.11 140.95,339.81 139.65,338.25 139.07,336.5 139.25,334.75 139.82,333.5 140.83,332.25 145.51,328.75 150.2,323.11 153.7,320.21 156.7,318.66 159.45,317.86 162.45,317.66 165.2,318.15 167.2,319.06 168.7,320.19 169.85,321.5 170.83,323.25 171.39,325 171.66,327.25 171.53,329.25 171.02,331.5 170.13,333.75 168.98,335.75 167.43,337.75 165.7,339.46 163.7,340.95 161.45,342.19 159.2,343.02 156.95,343.5 M111.13,347.75 108.79,345.5 107.34,342.75 106.84,339.75 107.37,336.5 108.82,333.75 111.2,331.41 114.2,329.88 117.7,329.31 120.7,329.7 123.7,330.96 130.55,335.75 131.54,336.75 132.05,337.75 132.04,339.25 131.36,340.5 128.32,343.25 125.45,346.35 123.69,347.75 M156.7,342.52 154.45,342.59 152.2,342.35 146.2,341.32 143.45,340.46 141.7,339.36 140.54,338 140.02,336.5 140.2,334.75 141.5,332.75 146.45,329.28 150.7,323.89 154.2,320.95 156.95,319.56 159.7,318.8 162.45,318.68 164.95,319.21 166.7,320.06 168.18,321.25 169.34,322.75 170.06,324.25 170.51,326 170.65,328 170.42,330 169.87,332 167.9,335.75 166.45,337.51 164.7,339.13 160.95,341.4 158.95,342.1 156.7,342.52 M112.67,347.75 110.2,345.91 108.41,343.25 107.68,340.25 107.99,337.25 109.26,334.5 111.45,332.2 114.45,330.62 117.7,330.1 120.45,330.45 123.2,331.61 129.95,336.17 130.77,337 131.25,338 131.19,339.25 130.4,340.5 127.64,342.75 124.45,346.16 122.11,347.75 M157.2,341.53 153.7,341.53 146.45,340.55 144.2,339.97 142.47,339 141.36,337.75 140.9,336.5 141.01,335 141.67,333.75 142.66,332.75 147.2,329.94 151.27,324.5 152.95,322.89 154.7,321.62 157.2,320.38 159.7,319.71 162.2,319.62 164.45,320.09 165.95,320.8 167.21,321.75 168.28,323 169.08,324.5 169.58,326.25 169.72,328 169.56,329.75 169.05,331.75 167.24,335.25 164.45,338.27 160.95,340.46 157.2,341.53 M114.58,347.75 111.7,346.26 109.66,344 108.57,341.25 108.53,338.25 108.94,336.75 109.66,335.25 111.7,332.93 114.45,331.38 117.7,330.82 120.2,331.14 122.7,332.18 126.25,334.75 129.33,336.5 130.09,337.25 130.52,338.25 130.39,339.25 129.93,340 126.95,342.34 124.07,345.5 122.2,346.88 120.17,347.75 M157.95,340.54 154.7,340.69 150.41,340 146.45,339.79 144.7,339.4 143.37,338.75 142.3,337.75 141.74,336.5 141.79,335.25 142.26,334.25 143.22,333.25 147.78,330.75 151.45,325.47 152.95,323.9 154.7,322.53 156.95,321.33 159.2,320.64 161.45,320.45 163.7,320.81 165.2,321.46 166.45,322.36 167.46,323.5 168.17,324.75 168.85,327.75 168.37,331.25 166.83,334.5 164.45,337.27 161.45,339.34 157.95,340.54 M119.45,347.25 116.2,347.42 113.2,346.44 111.85,345.5 110.7,344.29 109.89,343 109.34,341.5 109.12,340 109.24,338.25 110.31,335.5 112.45,333.2 113.95,332.31 115.45,331.77 118.45,331.52 121.45,332.31 122.95,333.16 125.71,335.25 128.7,336.81 129.42,337.5 129.76,338.25 129.7,339 129.27,339.75 126.22,342 123.32,345.25 121.45,346.52 119.45,347.25 M157.7,339.78 155.2,339.87 150.7,339.02 146.95,339.09 145.2,338.83 143.95,338.27 143.09,337.5 142.59,336.5 142.65,335.25 143.24,334.25 144.15,333.5 147.45,332.18 148.45,331.5 151.94,326 153.45,324.4 155.2,323.06 157.45,321.92 159.45,321.38 161.45,321.27 163.45,321.63 165.83,323 167.44,325.25 168.04,328 167.58,331.25 166.13,334.25 163.7,336.98 160.7,338.89 157.7,339.78 M118.7,346.78 115.7,346.71 112.95,345.54 110.92,343.5 110.27,342.25 109.85,340.75 109.77,339.25 110.01,337.75 111.25,335.25 113.45,333.28 114.95,332.57 116.45,332.2 118.95,332.2 121.2,332.89 122.7,333.77 125.2,335.76 128.2,337.25 128.95,338.25 128.88,339 128.56,339.5 125.7,341.5 122.7,344.95 120.7,346.19 118.7,346.78 M157.7,339.03 154.95,339.01 150.45,337.9 147.2,338.31 145.7,338.2 144.7,337.83 143.95,337.25 143.51,336.5 143.5,335.5 143.95,334.69 144.82,334 148.2,333 148.99,332.5 152.03,327 153.52,325.25 155.2,323.86 157.2,322.77 159.2,322.16 161.2,322.02 162.95,322.32 165.2,323.56 166.06,324.5 166.76,325.75 167.3,328.5 166.85,331.25 165.5,334 163.25,336.5 160.7,338.13 157.7,339.03 M118.2,346.26 115.45,346.05 112.95,344.82 111.17,342.75 110.39,340.25 110.63,337.75 112,335.25 114.2,333.52 116.95,332.72 119.2,332.84 121.2,333.55 124.95,336.44 127.45,337.64 128.03,338.5 127.68,339.25 125.2,340.98 123.45,343.35 122.2,344.6 120.45,345.67 118.2,346.26 M157.95,338.29 156.2,338.38 154.7,338.15 150.2,336.37 147.45,337.33 145.95,337.35 144.85,336.75 144.55,335.75 145.01,335 145.94,334.5 148.95,334.33 149.55,334 152.14,328 153.45,326.22 155.2,324.63 156.95,323.58 158.95,322.9 160.7,322.71 162.45,322.95 164.7,324.17 166.04,326 166.59,328.5 166.24,331 165.08,333.5 163.16,335.75 160.7,337.42 157.95,338.29 M117.7,345.76 115.2,345.41 112.84,344 111.43,342 110.93,339.5 111.52,337 112.95,335.05 115.2,333.66 117.7,333.22 119.7,333.53 121.45,334.33 126.4,338.5 126.16,339 124.95,340.08 123.2,342.75 121.95,344.09 119.95,345.29 117.7,345.76 M158.45,337.54 156.7,337.7 155.2,337.5 153.7,336.93 152.34,336 151.68,335.25 151.28,334.25 151.24,332.75 151.56,331 153.02,327.75 154.23,326.25 155.69,325 157.2,324.13 158.7,323.6 160.45,323.38 161.95,323.55 163.94,324.5 165.23,326 165.87,328 165.72,330.5 164.84,332.75 163.11,335 160.95,336.61 158.45,337.54 M117.7,345.26 115.45,344.96 113.34,343.75 112.01,342 111.46,339.75 111.87,337.5 113.2,335.52 115.2,334.2 117.45,333.73 119.7,334.06 121.45,334.97 123.46,337 124.38,338.75 123.34,341.5 121.95,343.39 119.95,344.74 117.7,345.26 M157.95,337 156.45,337.02 155.2,336.76 153.95,336.16 152.93,335.25 152.34,334.25 152.1,333.25 152.11,331.75 152.45,330.25 153.08,328.75 154.08,327.25 156.45,325.17 159.2,324.11 160.7,324.02 161.95,324.24 163.7,325.21 164.84,326.75 165.29,328.75 164.97,331 163.87,333.25 162.2,335.08 160.2,336.35 157.95,337 M117.95,344.77 115.95,344.61 113.95,343.62 112.56,342 111.97,340 112.29,337.75 113.4,336 115.2,334.72 117.2,334.22 119.2,334.41 121.2,335.4 122.71,337 123.46,338.75 123.09,340.75 121.88,342.75 120.2,344.09 117.95,344.77 M158.7,336.28 156.2,336.34 154.95,335.91 154.01,335.25 152.93,333.5 152.87,331 154.01,328.25 155.95,326.15 158.45,324.86 159.95,324.61 161.2,324.7 162.95,325.46 164.1,326.75 164.66,328.5 164.58,330.25 163.86,332.25 162.45,334.14 160.7,335.49 158.7,336.28 M118.2,344.29 116.2,344.2 114.45,343.42 113.1,342 112.47,340.25 112.61,338.25 113.57,336.5 114.95,335.35 116.95,334.69 118.95,334.82 120.7,335.62 122.08,337 122.81,338.75 122.53,340.75 121.49,342.5 119.95,343.72 118.2,344.29 M158.45,335.77 156.2,335.7 154.45,334.7 153.5,333 153.38,331.75 153.57,330.5 154.63,328.25 156.45,326.41 158.7,325.35 159.95,325.18 161.2,325.32 162.7,326.07 163.66,327.25 164.11,329 163.9,330.75 163.12,332.5 161.87,334 160.2,335.17 158.45,335.77 M118.7,343.75 116.95,343.9 115.2,343.37 113.82,342.25 113.03,340.75 112.9,339 113.4,337.5 114.45,336.22 116.2,335.28 117.95,335.08 119.7,335.54 121.29,336.75 122.15,338.25 122.28,339.75 121.67,341.5 120.45,342.88 118.7,343.75 M158.2,335.26 156.2,335.06 154.7,334 153.99,332.25 154.19,330.25 155.23,328.25 156.95,326.66 159.2,325.79 161.2,325.93 162.45,326.66 163.23,327.75 163.56,329.25 163.29,331 162.53,332.5 161.2,333.94 159.7,334.85 158.2,335.26 M117.7,343.51 116.2,343.34 114.7,342.54 113.68,341.25 113.29,339.75 113.52,338.25 114.45,336.78 115.7,335.9 117.45,335.48 118.95,335.69 120.45,336.52 121.43,337.75 121.83,339.25 121.55,340.75 120.7,342.1 119.45,343.04 117.7,343.51 M157.95,334.75 156.2,334.42 155.1,333.5 154.54,332 154.81,330 155.84,328.25 157.45,326.92 159.2,326.31 160.95,326.45 162.2,327.25 162.81,328.25 163.03,329.5 162.76,331 162.13,332.25 160.95,333.54 159.45,334.42 157.95,334.75 M118.45,343 116.95,343.1 115.45,342.59 114.45,341.72 113.82,340.5 113.74,339 114.2,337.75 115.2,336.64 116.45,336.02 117.95,335.88 119.45,336.32 120.6,337.25 121.27,338.5 121.34,340 120.85,341.25 119.7,342.44 118.45,343 M158.95,334.08 157.2,334.16 155.95,333.54 155.16,332.25 155.12,330.75 155.7,329.23 156.95,327.81 158.45,327 160.2,326.84 161.2,327.19 162.05,328 162.45,329 162.45,330.25 162.03,331.5 161.2,332.68 160.2,333.51 158.95,334.08 M117.7,342.75 116.45,342.62 115.2,341.95 114.44,341 114.08,339.75 114.26,338.5 114.95,337.37 115.95,336.62 117.45,336.23 118.7,336.41 119.95,337.14 120.63,338 120.98,339.25 120.78,340.5 119.96,341.75 118.95,342.44 117.7,342.75 M158.95,333.57 157.7,333.69 156.45,333.19 155.76,332.25 155.63,330.75 156.2,329.31 157.2,328.2 158.45,327.5 159.95,327.34 160.95,327.71 161.52,328.25 161.94,329.25 161.94,330.25 161.63,331.25 160.95,332.28 159.95,333.12 158.95,333.57 M118.45,342.25 117.2,342.4 116.2,342.15 115.25,341.5 114.62,340.5 114.47,339.25 114.77,338.25 115.45,337.38 116.45,336.79 117.7,336.59 118.95,336.9 119.79,337.5 120.43,338.5 120.58,339.75 120.26,340.75 119.45,341.72 118.45,342.25 M158.95,333.06 157.7,333.14 156.84,332.75 156.28,332 156.15,330.75 156.63,329.5 157.45,328.59 158.45,328.02 159.7,327.85 160.45,328.08 161.16,328.75 161.43,330.25 160.58,332 158.95,333.06 M117.95,342.03 116.95,342.02 115.95,341.62 115.29,341 114.85,340 114.87,339 115.35,338 116.2,337.27 117.2,336.95 118.2,337 119.2,337.46 119.91,338.25 120.19,339 120.16,340 119.7,340.97 118.95,341.65 117.95,342.03 M158.95,332.53 157.95,332.6 157.2,332.26 156.73,331.5 156.7,330.65 157.05,329.75 157.7,329 158.7,328.47 159.7,328.43 160.7,329.15 160.86,330.5 160.17,331.75 158.95,332.53 M118.45,341.53 117.7,341.73 116.7,341.61 115.95,341.2 115.39,340.5 115.17,339.75 115.31,338.75 115.79,338 116.45,337.52 117.2,337.28 118.2,337.35 119.02,337.75 119.65,338.5 119.86,339.25 119.72,340.25 119.23,341 118.45,341.53 M158.7,332 157.65,331.75 157.33,331.25 157.32,330.5 158.2,329.29 159.45,329.02 160.14,329.5 160.27,330.5 159.7,331.47 158.7,332 M118.2,341.29 116.7,341.27 115.64,340.25 115.5,339.5 115.67,338.75 116.7,337.76 118.2,337.69 118.95,338.13 119.39,338.75 119.53,339.5 119.35,340.25 118.2,341.29 M158.95,331.13 158.45,331.18 158.1,330.75 158.44,330 158.95,329.81 159.49,330.25 159.37,330.75 158.95,331.13 M117.95,341.04 116.7,340.91 115.9,340 116.04,338.75 116.95,338 118.2,338.02 119.12,339 118.98,340.25 117.95,341.04 M117.7,340.78 116.7,340.55 116.17,339.75 116.41,338.75 117.2,338.24 118.2,338.37 118.85,339.25 118.6,340.25 117.7,340.78 M117.95,340.38 117.2,340.45 116.6,340 116.51,339.25 116.95,338.68 117.7,338.52 118.42,339 118.51,339.75 117.95,340.38" fill="none" stroke="#000" stroke-width="0.62" stroke-linejoin="round"/>
<rect x="89.2" y="257.5" width="91.5" height="90.7" fill="none" stroke="#111" stroke-width="1.2"/>
<path d="M84.6,348.5H89.2M86.8,344.5H89.2M86.8,341.5H89.2M86.8,337.5H89.2M86.8,334.5H89.2M84.6,330.5H89.2M86.8,327.5H89.2M86.8,323.5H89.2M86.8,320.5H89.2M86.8,316.5H89.2M84.6,313.5H89.2M86.8,309.5H89.2M86.8,306.5H89.2M86.8,303.5H89.2M86.8,299.5H89.2M84.6,296.5H89.2M86.8,292.5H89.2M86.8,289.5H89.2M86.8,285.5H89.2M86.8,282.5H89.2M84.6,278.5H89.2M86.8,275.5H89.2M86.8,271.5H89.2M86.8,268.5H89.2M86.8,264.5H89.2M84.6,261.5H89.2M86.8,257.5H89.2M94.5,348.2V353M108.5,348.2V353M124.5,348.2V353M149.5,348.2V353M171.5,348.2V353M103.5,348.2V352M117.5,348.2V352M132.5,348.2V350.7M136.5,348.2V350.7M139.5,348.2V350.7M142.5,348.2V352M144.5,348.2V350.7M145.5,348.2V350.7M147.5,348.2V350.7M148.5,348.2V350.7M156.5,348.2V350.7M160.5,348.2V350.7M162.5,348.2V350.7M164.5,348.2V352M166.5,348.2V350.7M168.5,348.2V350.7M169.5,348.2V350.7M170.5,348.2V350.7M178.5,348.2V350.7" stroke="#111" stroke-width="1.1"/>
<rect x="93.7" y="348.2" width="32.3" height="2.3" fill="#111"/>
<path d="M136.5,345.9L150,296.7L180.2,296.7L180.2,345.9Z" fill="none" stroke="#111" stroke-width="1.2"/>
<text x="145" y="289.6" font-size="12" text-anchor="start" font-weight="normal" fill="#222" >59.9</text>
<path d="M220.47,347.75 219.21,345.25 218.87,342 219.45,338.5 220.9,334.75 223.32,330.75 227.06,326.25 230.75,322.67 234.25,320.41 237.25,319.49 240.25,319.56 243,320.74 246.75,324.44 248.75,325.47 251.5,325.8 256.75,324.54 260.25,324.41 262.12,324.75 263.75,325.36 265.12,326.25 265.98,327.25 266.44,328.75 266.04,330.25 264.75,331.63 262.75,332.64 260.75,333.11 258.75,333.22 252,332.38 245.5,333.9 244.25,334.44 242.5,336.1 238.8,341.25 236.72,343.75 234.5,345.9 231.99,347.75 M222.06,347.75 220.91,346.5 220.18,345 219.8,343.25 219.79,341 220.19,338.75 220.92,336.5 223.35,332 225.45,329.25 228.17,326.25 230.72,323.75 232.75,322.17 234.75,321.07 237,320.38 239,320.29 240.75,320.67 242,321.29 243.19,322.25 246.25,326.15 249.48,327.75 250.51,328.5 250.89,329 250.93,329.75 250.26,330.75 248.9,331.75 247.5,332.26 244.75,332.74 243.42,333.5 242,335.11 238.4,340.5 236.19,343.25 233.25,345.96 230.37,347.75 M259.25,331.5 257,331.22 254.79,330.25 253.83,329.25 254.01,328.25 255.75,326.87 258.25,326.14 260.75,326.26 262.87,327.25 263.64,328.5 263.6,329.25 263.2,330 261.5,331.11 259.25,331.5 M224.27,347.75 222.75,346.97 221.62,345.75 220.91,344.25 220.56,342.25 220.65,340.25 221.14,338 222.1,335.5 223.33,333.25 225.12,330.75 227.25,328.31 230.74,324.75 233,322.88 235,321.77 237,321.17 239,321.12 240.75,321.63 242.75,323.2 245,327.4 245.75,328.12 247.44,329 247.81,329.5 247.81,330 247,330.69 244.75,331.02 243.5,331.76 241.5,334.21 237.54,340.5 235.26,343.25 231.75,346.15 230,347.1 228.15,347.75 M227.75,347.05 225.75,347.14 224,346.62 222.6,345.5 221.74,344 221.32,342 221.43,339.75 222.06,337.25 223.04,335 224.4,332.75 226.38,330.25 231,325.47 233.25,323.54 235.25,322.41 237,321.9 238.75,321.87 240.5,322.42 242.07,323.75 243.1,325.75 243.5,328.25 242.97,330.25 237.62,339.25 235.35,342.25 233.5,344.07 231.75,345.37 229.75,346.44 227.75,347.05 M228,346.26 226.25,346.37 224.5,345.89 223.25,344.9 222.42,343.5 222.03,341.75 222.08,339.75 222.61,337.5 223.56,335.25 224.93,333 226.52,331 233.5,324.14 235.25,323.11 237,322.59 238.5,322.56 240,323.03 241.44,324.25 242.34,326.25 242.41,328.5 241.64,330.75 237.38,338.5 235.03,341.75 231.75,344.65 230,345.62 228,346.26 M228.25,345.52 226.5,345.63 225,345.21 223.77,344.25 223.04,343 222.66,341.25 222.73,339.5 223.2,337.5 224.16,335.25 225.4,333.25 227,331.29 233.75,324.72 235.25,323.79 236.75,323.29 238.25,323.22 239.5,323.59 240.88,324.75 241.65,326.75 241.55,328.75 240.67,331 236.87,338.25 234.77,341.25 233.25,342.8 231.5,344.14 229.75,345.06 228.25,345.52 M228.75,344.77 227.25,344.97 225.75,344.71 224.5,343.91 223.71,342.75 223.3,341.25 223.31,339.5 223.67,337.75 224.59,335.5 225.83,333.5 227.25,331.79 234.01,325.25 235.5,324.32 236.75,323.91 238,323.86 239.25,324.24 240.17,325 240.75,326 240.99,327.25 240.9,328.5 240.3,330.25 236.68,337.5 235.13,340 233.12,342.25 231,343.82 228.75,344.77 M228.25,344.27 227,344.3 225.75,343.92 224.75,343.11 224.12,342 223.83,340.5 223.91,339 224.35,337.25 225.12,335.5 227.5,332.22 234.5,325.59 236.75,324.53 237.75,324.49 238.75,324.76 239.5,325.3 240.11,326.25 240.34,327.25 240.25,328.5 239.73,330 238,333.11 235.86,338 234.36,340.25 232.5,342.17 230.25,343.64 228.25,344.27 M229,343.55 227.5,343.72 226.25,343.41 225.33,342.75 224.7,341.75 224.39,340.5 224.41,339 225.48,335.75 227.75,332.61 232,329.02 234.75,326.12 236.75,325.16 237.75,325.15 238.5,325.41 239.18,326 239.56,326.75 239.55,328.75 237.46,332.75 235.47,337.75 234.2,339.75 232.5,341.58 230.75,342.84 229,343.55 M229,343.02 227.75,343.15 226.5,342.82 225.74,342.25 225.13,341.25 224.87,340 224.92,338.75 225.95,335.75 228.21,332.75 232.45,329.5 235,326.69 236.5,325.88 238,325.98 238.89,327 238.89,328.75 236.83,332.5 234.99,337.75 233.69,339.75 232.25,341.25 230.75,342.32 229,343.02 M229,342.52 228,342.61 227,342.39 226.25,341.9 225.64,341 225.35,339.75 225.41,338.5 226.39,335.75 228.5,333.03 230,331.82 233.25,329.79 235.5,327.16 236.5,326.64 237.61,326.75 238.2,327.5 238.14,328.75 236.25,331.92 235.36,335.75 234.4,338 233.39,339.5 232,340.94 230.5,341.97 229,342.52 M229,342.04 227.25,341.87 226.5,341.32 226.01,340.5 225.84,338.5 226.67,336 227.86,334.25 229.25,332.89 231.25,331.64 234.63,330.25 235.75,328.29 236.75,327.84 237.1,328.25 237,328.85 235.36,330.75 235.08,335 234.11,337.75 233.13,339.25 231.75,340.66 230.25,341.63 229,342.04 M229.25,341.53 227.5,341.38 226.5,340.34 226.25,338.5 226.82,336.5 228.11,334.5 230,332.83 232,331.92 233.75,331.92 234.44,332.75 234.66,334 234.53,335.5 233.95,337.25 233.07,338.75 231.96,340 230.5,341.06 229.25,341.53 M229.5,341.03 227.94,341 226.89,340 226.65,338.5 227.2,336.5 228.34,334.75 230,333.29 231.75,332.53 233.25,332.64 233.86,333.25 234.17,334.5 234.07,335.75 233.57,337.25 232.84,338.5 231.75,339.73 230.5,340.63 229.5,341.03 M229.75,340.55 228.25,340.58 227.3,339.75 227.04,338.5 227.45,336.75 228.34,335.25 229.75,333.89 231.25,333.14 232.75,333.16 233.42,333.75 233.68,334.5 233.67,335.75 233.31,337 231.79,339.25 229.75,340.55 M230,340.06 228.75,340.22 227.75,339.59 227.43,338.5 227.7,337 228.54,335.5 229.75,334.31 231,333.65 232.25,333.59 232.89,334 233.25,334.75 233.05,336.75 231.84,338.75 230,340.06 M229.75,339.76 228.75,339.76 228.08,339.25 227.8,338.25 228.04,337 228.72,335.75 229.75,334.71 231,334.07 232,334.06 232.5,334.37 232.84,335 232.89,336 232.61,337 231.42,338.75 229.75,339.76 M230,339.31 229,339.36 228.46,339 228.18,338.25 228.36,337 229,335.87 229.88,335 230.75,334.54 231.75,334.5 232.46,335.25 232.37,336.75 231.49,338.25 230,339.31 M229.5,339.01 228.85,338.75 228.57,338.25 228.55,337.5 228.92,336.5 230.25,335.13 231,334.87 231.69,335 232.17,336 231.75,337.41 230.75,338.55 229.5,339.01 M230,338.58 229.5,338.6 229,338.25 229,337 230,335.66 231.25,335.31 231.8,336 231.63,337 230.95,338 230,338.58 M230.5,338.01 229.5,338.14 229.23,337.25 230,336.02 231,335.69 231.38,336 231.41,336.75 230.5,338.01" fill="none" stroke="#000" stroke-width="0.62" stroke-linejoin="round"/>
<rect x="190" y="257.5" width="91.5" height="90.7" fill="none" stroke="#111" stroke-width="1.2"/>
<path d="M185.4,348.5H190M187.6,344.5H190M187.6,341.5H190M187.6,337.5H190M187.6,334.5H190M185.4,330.5H190M187.6,327.5H190M187.6,323.5H190M187.6,320.5H190M187.6,316.5H190M185.4,313.5H190M187.6,309.5H190M187.6,306.5H190M187.6,303.5H190M187.6,299.5H190M185.4,296.5H190M187.6,292.5H190M187.6,289.5H190M187.6,285.5H190M187.6,282.5H190M185.4,278.5H190M187.6,275.5H190M187.6,271.5H190M187.6,268.5H190M187.6,264.5H190M185.4,261.5H190M187.6,257.5H190M195.5,348.2V353M209.5,348.2V353M225.5,348.2V353M250.5,348.2V353M272.5,348.2V353M204.5,348.2V352M218.5,348.2V352M232.5,348.2V350.7M237.5,348.2V350.7M240.5,348.2V350.7M242.5,348.2V352M244.5,348.2V350.7M246.5,348.2V350.7M247.5,348.2V350.7M249.5,348.2V350.7M257.5,348.2V350.7M260.5,348.2V350.7M263.5,348.2V350.7M265.5,348.2V352M267.5,348.2V350.7M268.5,348.2V350.7M270.5,348.2V350.7M271.5,348.2V350.7M279.5,348.2V350.7" stroke="#111" stroke-width="1.1"/>
<rect x="194.5" y="348.2" width="32.3" height="2.3" fill="#111"/>
<path d="M239.8,346.3L248.9,298.2L281,298.2L281,346.3Z" fill="none" stroke="#111" stroke-width="1.2"/>
<text x="246.6" y="289.6" font-size="12" text-anchor="start" font-weight="normal" fill="#222" >13.8</text>
<path d="M314.69,347.75 314.34,344.75 314.68,341.25 315.73,337.25 317.33,333.25 319.11,330 321.15,327.3 323.4,325.17 326.15,323.38 329.4,322.05 333.65,321.19 339.65,320.73 344.65,320.87 348.65,321.54 352.15,322.72 354.9,324.34 356.78,326.25 357.83,328.5 357.83,331 356.62,333.5 354.5,335.5 351.4,337.21 347.65,338.44 343.4,339.22 336.4,339.82 334.15,340.42 331.9,342.09 326.97,347.75 M315.62,347.75 315.12,345.25 315.28,342 316.1,338.5 317.56,334.75 319.48,331.25 321.54,328.5 323.9,326.26 326.4,324.64 329.4,323.43 333.4,322.61 339.15,322.02 343.9,322.08 347.4,322.61 350.65,323.67 353.15,325.09 355.04,327 355.96,329 355.94,331.25 354.95,333.25 353.15,334.95 350.4,336.44 346.65,337.59 342.65,338.19 335.9,338.57 333.9,339.11 331.9,340.68 328.33,345.25 325.98,347.75 M316.55,347.75 315.88,345.5 315.84,342.75 316.46,339.5 317.74,336 319.47,332.75 321.47,330 323.65,327.81 326.15,326.09 328.9,324.94 332.4,324.16 338.4,323.34 342.9,323.24 346.4,323.71 349.4,324.66 351.74,326 353.46,327.75 354.26,329.5 354.27,331.25 353.45,333 351.85,334.5 349.15,335.88 345.65,336.8 341.9,337.21 335.65,337.28 333.65,337.79 331.9,339.25 327.94,344.75 325.01,347.75 M317.55,347.75 316.64,345.75 316.42,343.25 316.79,340.5 317.83,337.25 319.47,334 321.4,331.28 323.65,329 325.9,327.45 327.9,326.57 330.4,325.95 338.15,324.64 342.4,324.44 345.4,324.8 348.15,325.61 350.4,326.85 352.06,328.5 352.77,330.25 352.52,332 351.4,333.5 349.15,334.9 346.9,335.64 344.15,336.1 340.9,336.22 335.4,335.95 334.15,336.12 333.15,336.55 331.65,338.08 327.23,344.75 325.65,346.43 324,347.75 M318.75,347.75 317.54,346.25 317.04,344.25 317.11,341.75 317.82,338.75 319.25,335.5 321.03,332.75 323.15,330.45 325.4,328.81 328.4,327.69 332.9,327.22 338.65,325.91 341.9,325.67 344.65,325.93 347.4,326.72 349.4,327.81 350.83,329.25 351.36,330.75 350.99,332.25 349.65,333.61 347.4,334.66 343.15,335.3 340.15,335.18 334.9,334.44 333.9,334.53 332.9,334.98 331.65,336.42 329.05,341.25 327.18,344 324.9,346.38 322.78,347.75 M321.4,347.52 319.65,347.34 318.9,346.87 318.2,346 317.56,343.75 317.72,341 318.7,337.75 320.26,334.75 322.4,332.04 324.65,330.19 326.4,329.33 328.4,328.95 329.9,329.09 333.15,329.92 337.65,327.68 339.65,327.17 341.9,326.96 344.15,327.11 346.4,327.65 348.4,328.64 349.55,329.75 349.99,331.25 349.4,332.52 347.65,333.71 345.15,334.36 342.9,334.46 340.4,334.19 337.82,333.5 334.15,331.99 333.15,332.03 331.9,333.61 329.29,339.75 326.99,343.5 324.15,346.3 322.65,347.16 321.4,347.52 M345.4,333.53 342.65,333.58 339.9,332.84 338.13,331.5 337.87,330.75 337.96,330.25 339.15,329.08 341.4,328.37 344.15,328.33 346.65,328.99 348.31,330.25 348.58,331.5 347.57,332.75 345.4,333.53 M321.9,346.79 320.65,346.86 319.65,346.51 318.84,345.75 318.26,344.5 318.04,343 318.15,341.25 319.27,337.5 321.36,334 323.9,331.49 325.4,330.6 326.65,330.18 327.9,330.1 328.9,330.33 330.15,331.38 330.57,333 330.25,335.5 329.1,339 327.52,342 325.9,344.12 323.9,345.88 321.9,346.79 M345.65,332.53 344.15,332.74 342.4,332.46 341.18,331.75 340.89,331.25 340.9,330.75 341.63,330 342.65,329.65 344.15,329.55 345.65,329.86 346.68,330.5 347.01,331.25 346.63,332 345.65,332.53 M322.4,346.06 321.15,346.24 320.16,346 319.4,345.41 318.86,344.5 318.55,343.25 318.53,341.75 319.29,338.5 320.98,335.25 323.15,332.77 325.65,331.25 326.9,331.02 327.9,331.16 329.05,332 329.62,333.5 329.55,335.75 328.82,338.5 327.52,341.25 326.12,343.25 324.15,345.14 322.4,346.06 M322.4,345.51 321.4,345.65 320.4,345.39 319.66,344.75 319.25,344 318.97,341.5 319.59,338.75 321.11,335.75 323.15,333.38 325.4,332.02 326.4,331.82 327.4,331.95 328.43,332.75 328.98,334.25 328.94,336.25 328.29,338.75 327.09,341.25 325.65,343.22 324.15,344.61 322.4,345.51 M322.15,345.04 321.4,345.07 320.53,344.75 319.9,344.1 319.53,343.25 319.41,341 320.05,338.5 321.54,335.75 323.4,333.73 325.4,332.63 326.4,332.52 327.15,332.71 328.02,333.5 328.48,335 328.37,337 327.7,339.25 326.53,341.5 325.15,343.23 323.65,344.45 322.15,345.04 M322.15,344.53 321.4,344.5 320.65,344.12 319.87,342.75 319.81,340.75 320.51,338.25 321.77,336 323.4,334.25 325.15,333.27 326.65,333.26 327.55,334 328.02,335.5 327.92,337.25 327.34,339.25 326.3,341.25 324.9,342.98 323.4,344.12 322.15,344.53 M322.4,344.01 321.07,343.75 320.26,342.5 320.16,340.75 320.74,338.5 321.9,336.37 323.4,334.73 324.9,333.86 326.4,333.84 327.17,334.5 327.59,335.75 327.51,337.5 327,339.25 326.1,341 324.9,342.52 323.65,343.53 322.4,344.01 M322.65,343.51 321.4,343.34 320.65,342.33 320.49,340.75 320.96,338.75 322,336.75 323.4,335.18 324.9,334.34 326.15,334.38 326.85,335 327.19,336 327.16,337.5 326.77,339 326.06,340.5 324.96,342 323.9,342.94 322.65,343.51 M322.9,343.02 321.65,342.9 320.97,342 320.83,340.5 321.26,338.75 322.17,337 323.4,335.61 324.65,334.87 325.9,334.87 326.57,335.5 326.82,336.25 326.84,337.5 326.46,339 324.9,341.63 323.9,342.53 322.9,343.02 M323.15,342.53 322.15,342.59 321.4,341.94 321.14,340.75 321.45,339 322.33,337.25 323.4,336.02 324.65,335.3 325.65,335.32 326.17,335.75 326.51,336.75 326.17,339 324.9,341.21 323.15,342.53 M323.4,342.05 322.4,342.18 321.65,341.53 321.45,340.5 321.73,339 322.4,337.61 323.4,336.42 324.4,335.79 325.4,335.75 325.9,336.16 326.15,336.75 325.98,338.75 324.9,340.79 323.4,342.05 M323.15,341.76 322.4,341.7 321.9,341.13 321.76,340.25 322,339 322.61,337.75 323.4,336.8 324.4,336.18 325.15,336.16 325.65,336.56 325.88,337.25 325.62,339 324.6,340.75 323.15,341.76 M323.4,341.31 322.65,341.33 322.15,340.76 322.26,339 323.4,337.17 324.15,336.65 324.9,336.55 325.52,337.25 325.44,338.75 324.65,340.29 323.4,341.31 M323.65,340.85 323.15,341 322.58,340.75 322.37,340.25 322.44,339.25 323.4,337.53 324.15,337.01 324.65,336.94 325.23,337.5 325.18,338.75 324.57,340 323.65,340.85 M323.65,340.51 323.15,340.6 322.72,340.25 322.76,339 323.65,337.65 324.65,337.38 325,338 324.9,338.86 324.4,339.84 323.65,340.51 M323.9,340.02 323.15,340.16 322.94,339.25 323.64,338 324.4,337.73 324.67,338 324.68,338.75 323.9,340.02" fill="none" stroke="#000" stroke-width="0.62" stroke-linejoin="round"/>
<rect x="293.4" y="257.5" width="91.4" height="90.7" fill="none" stroke="#111" stroke-width="1.2"/>
<path d="M288.8,348.5H293.4M291,344.5H293.4M291,341.5H293.4M291,337.5H293.4M291,334.5H293.4M288.8,330.5H293.4M291,327.5H293.4M291,323.5H293.4M291,320.5H293.4M291,316.5H293.4M288.8,313.5H293.4M291,309.5H293.4M291,306.5H293.4M291,303.5H293.4M291,299.5H293.4M288.8,296.5H293.4M291,292.5H293.4M291,289.5H293.4M291,285.5H293.4M291,282.5H293.4M288.8,278.5H293.4M291,275.5H293.4M291,271.5H293.4M291,268.5H293.4M291,264.5H293.4M288.8,261.5H293.4M291,257.5H293.4M298.5,348.2V353M312.5,348.2V353M328.5,348.2V353M353.5,348.2V353M375.5,348.2V353M308.5,348.2V352M322.5,348.2V352M336.5,348.2V350.7M340.5,348.2V350.7M343.5,348.2V350.7M346.5,348.2V352M348.5,348.2V350.7M349.5,348.2V350.7M351.5,348.2V350.7M352.5,348.2V350.7M360.5,348.2V350.7M364.5,348.2V350.7M367.5,348.2V350.7M369.5,348.2V352M370.5,348.2V350.7M372.5,348.2V350.7M373.5,348.2V350.7M374.5,348.2V350.7M382.5,348.2V350.7" stroke="#111" stroke-width="1.1"/>
<rect x="297.9" y="348.2" width="32.3" height="2.3" fill="#111"/>
<path d="M329.8,346.3L339,295.3L384.3,295.3L384.3,346.3Z" fill="none" stroke="#111" stroke-width="1.2"/>
<text x="349.9" y="289.6" font-size="12" text-anchor="start" font-weight="normal" fill="#222" >40.0</text>
<path d="M417.77,347.75 415.8,347.13 414.05,346.25 412.55,345.14 411.3,343.75 410.46,342.25 409.97,340.5 409.9,338.75 410.23,337 410.94,335.25 411.88,333.75 413.3,332.13 415.05,330.64 419.05,328.32 424.3,326.45 431.8,324.64 438.3,323.59 457.05,321.88 463.3,321.88 469.8,322.63 474.3,324.05 476.3,325.21 477.81,326.5 478.99,328 479.82,329.75 480.14,331.25 480.1,333 479.69,334.5 478.92,336 477.7,337.5 476.3,338.67 474.55,339.71 472.55,340.52 468.3,341.46 462.05,341.93 457.55,341.85 448.3,340.96 444.3,341.06 440.3,341.46 436.8,342.43 430.05,346.17 425.41,347.75 M423.8,347.26 421.3,347.41 419.05,347.2 416.8,346.62 415.05,345.82 413.53,344.75 412.18,343.25 411.3,341.5 410.97,339.75 411.08,338 411.63,336.25 412.61,334.5 414.05,332.81 415.8,331.34 417.8,330.09 422.55,328.13 431.3,325.89 437.8,324.7 449.8,323.76 457.05,322.87 461.55,322.77 468.8,323.39 473.3,324.59 475.3,325.65 476.8,326.86 477.95,328.25 478.78,330 479.08,331.5 479.01,333 478.67,334.25 477.89,335.75 476.86,337 475.55,338.09 472.05,339.77 468.05,340.58 461.55,341.01 457.3,340.88 448.8,339.86 444.05,339.98 439.55,340.42 435.99,341.5 431.05,344.68 428.8,345.85 426.55,346.68 423.8,347.26 M424.05,346.53 421.8,346.71 419.8,346.59 417.8,346.16 415.8,345.32 414.3,344.28 413.12,343 412.32,341.5 411.96,340 411.98,338.5 412.44,336.75 413.38,335 414.55,333.59 417.8,331.12 422.55,329.17 433.05,326.6 438.05,325.67 449.55,324.86 456.8,323.81 460.8,323.64 468.3,324.17 472.55,325.17 474.55,326.16 475.95,327.25 477.18,328.75 477.87,330.25 478.12,331.75 478.03,333 476.98,335.5 474.8,337.61 471.55,339.09 467.55,339.8 461.05,340.17 457.05,339.97 449.05,338.81 443.53,339 438.55,339.45 436.8,339.88 435.42,340.5 431.05,343.71 428.8,345.03 426.55,345.94 424.05,346.53 M423.05,346.01 419.3,345.83 417.55,345.33 415.89,344.5 414.63,343.5 413.64,342.25 413.08,341 412.82,339.5 412.91,338.25 413.37,336.75 414.22,335.25 415.3,333.97 416.8,332.7 418.55,331.63 422.3,330.16 438.3,326.61 442.3,326.19 449.8,325.89 456.8,324.66 460.3,324.46 468.05,324.94 472.05,325.78 473.8,326.59 475.3,327.72 476.36,329 477.04,330.5 477.25,331.75 477.15,333 476.16,335.25 474.05,337.2 471.3,338.4 467.8,339 460.3,339.38 456.8,339.13 449.55,337.82 437.8,338.47 436.05,338.91 434.8,339.54 431.05,342.76 428.55,344.39 426.05,345.42 423.05,346.01 M424.05,345.29 420.3,345.38 417.05,344.38 415.8,343.57 414.75,342.5 414.02,341.25 413.68,340 413.66,338.75 414.01,337.25 415.57,334.75 418.3,332.58 421.8,331.11 429.67,329.75 438.55,327.54 442.55,327.12 450.05,326.94 456.3,325.54 459.8,325.22 468.05,325.68 471.55,326.34 473.3,327.11 474.55,328.01 475.62,329.25 476.3,330.75 476.35,333 475.43,335 473.55,336.7 471.05,337.77 467.8,338.27 460.05,338.64 456.8,338.37 451.8,337.1 449.8,336.83 436.8,337.51 435.3,337.9 434.3,338.47 430.83,342 428.8,343.52 426.55,344.61 424.05,345.29 M423.8,344.78 420.55,344.84 417.55,343.93 415.46,342.25 414.83,341.25 414.45,340 414.41,338.75 414.68,337.5 415.28,336.25 416.24,335 418.55,333.18 421.8,331.82 424.55,331.3 430.55,330.85 436.05,329.12 439.3,328.4 443.05,328.06 450.05,328.07 456.05,326.35 459.55,325.93 468.55,326.41 471.3,326.93 472.8,327.57 474.1,328.5 475.11,329.75 475.61,331 475.72,332.25 475.54,333.25 474.33,335.25 472.3,336.65 469.55,337.43 458.55,337.91 455.8,337.43 451.55,336.05 449.8,335.83 443.05,336.35 436.8,336.38 435.05,336.59 433.55,337.45 431.06,340.75 429.05,342.62 426.55,344.01 423.8,344.78 M423.8,344.26 420.8,344.34 418.05,343.53 416.1,342 415.48,341 415.12,339.75 415.39,337.5 416.84,335.25 419.05,333.56 422.05,332.39 425.55,331.97 431.55,332.37 432.55,332.09 436.05,330.35 438.8,329.53 443.05,329.06 450.05,329.37 451.55,328.97 455.8,327.15 459.3,326.59 468.55,327.06 470.8,327.41 472.3,327.99 473.44,328.75 474.34,329.75 474.92,331 474.91,333 474.49,334 473.69,335 471.8,336.22 469.05,336.87 460.3,337.31 458.05,337.22 455.8,336.72 452.05,335.14 450.3,334.77 442.3,335.58 435.05,335.04 433.8,335.15 432.8,335.94 431.07,339.5 429.3,341.66 426.8,343.33 423.8,344.26 M462.3,336.51 459.3,336.72 456.8,336.37 454.8,335.59 451.55,333.56 450.55,333.2 449.55,333.29 445.37,334.5 441.55,334.76 439.3,334.54 437.55,334.09 436.42,333.5 436.02,332.75 436.39,332 437.55,331.21 439.3,330.58 441.3,330.23 444.8,330.24 449.3,331.21 450.3,331.23 455.05,328.18 456.8,327.54 458.8,327.23 470.05,327.83 472.3,328.65 473.93,330.25 474.4,331.75 474.16,333.25 473.35,334.5 472.05,335.48 469.3,336.25 462.3,336.51 M423.8,343.79 421.8,343.93 420.05,343.7 418.3,343.04 417.05,342.14 416.19,341 415.75,339.5 415.88,338 416.42,336.75 417.38,335.5 418.8,334.34 420.55,333.44 422.3,332.9 424.3,332.63 426.3,332.7 428.3,333.12 429.74,333.75 430.78,334.75 431.13,336 430.9,338 430.12,339.75 428.92,341.25 427.55,342.34 425.8,343.23 423.8,343.79 M461.3,336.01 459.3,336.15 457.55,335.96 456.05,335.49 454.74,334.75 453.4,333.5 452.87,332.5 452.88,331.5 453.38,330.5 454.63,329.25 456.05,328.43 457.8,327.92 459.55,327.79 464.55,328.35 468.55,328.25 470.3,328.44 472.3,329.31 473.51,330.75 473.78,332 473.5,333.25 472.55,334.48 471.3,335.23 469.3,335.69 464.55,335.61 461.3,336.01 M443.55,333.76 441.8,333.8 440.3,333.53 439.36,333 439.27,332.5 440.33,331.75 442.3,331.4 444.55,331.59 445.93,332.25 446.03,332.75 445.48,333.25 443.55,333.76 M424.05,343.29 420.8,343.37 419.3,342.95 418.05,342.26 417.05,341.26 416.53,340.25 416.34,339 416.57,337.75 417.23,336.5 418.12,335.5 420.8,333.87 424.05,333.19 427.3,333.62 428.8,334.37 429.81,335.5 430.2,337 429.98,338.5 429.25,340 427.87,341.5 426.05,342.63 424.05,343.29 M460.55,335.52 458.8,335.59 457.3,335.34 456.05,334.83 454.91,334 454.18,333 453.95,332 454.17,331 454.86,330 456.55,328.86 458.55,328.37 460.3,328.4 464.55,329.1 469.3,328.84 470.55,329.06 471.8,329.64 472.55,330.32 473.06,331.25 473.16,332.25 472.8,333.31 471.94,334.25 470.8,334.85 468.8,335.16 464.3,334.88 460.55,335.52 M423.05,343.02 420.3,342.8 419.05,342.31 417.96,341.5 417.24,340.5 416.94,339.5 416.95,338.5 417.37,337.25 419.05,335.34 421.55,334.09 424.55,333.69 427.3,334.33 428.55,335.2 429.24,336.25 429.45,337.75 429.04,339.25 427.98,340.75 426.55,341.87 424.8,342.66 423.05,343.02 M460.05,335.02 458.55,335.05 457.3,334.78 456.21,334.25 455.38,333.5 454.94,332.75 454.82,331.75 455.17,330.75 455.82,330 457.09,329.25 458.8,328.89 460.55,329.02 464.55,329.94 469.55,329.42 471.55,330.15 472.49,331.5 472.49,332.5 472.14,333.25 471.32,334 470.3,334.43 468.55,334.58 464.55,334.03 460.05,335.02 M423.8,342.5 421.3,342.58 419.03,341.75 417.72,340.25 417.46,339.25 417.54,338.25 418.55,336.4 420.55,334.93 423.05,334.21 425.55,334.31 427.05,334.86 428.14,335.75 428.75,337 428.72,338.5 428.17,339.75 427.04,341 425.55,341.94 423.8,342.5 M459.55,334.53 457.3,334.21 455.84,333 455.58,332.25 455.62,331.5 455.99,330.75 456.83,330 458.3,329.48 459.8,329.47 464.8,331.22 467.8,330.19 469.55,330 471.05,330.52 471.87,331.75 471.54,333 471.01,333.5 470.05,333.91 468.3,333.92 465.3,332.83 464.55,332.76 461.3,334.12 459.55,334.53 M422.8,342.26 420.55,342 418.8,340.96 418.28,340.25 417.97,339.25 418.33,337.5 419.8,335.85 421.8,334.87 424.3,334.58 426.55,335.19 427.57,336 428.13,337 428.24,338 427.89,339.25 427.05,340.42 425.8,341.37 424.3,342 422.8,342.26 M459.05,334 457.2,333.5 456.65,333 456.31,332.25 456.37,331.5 456.8,330.8 458.3,330.04 459.43,330 460.55,330.28 461.74,331 462.25,331.75 462.14,332.5 461.39,333.25 460.3,333.79 459.05,334 M469.8,333.28 468.7,333.25 467.65,332.75 467.27,332.25 467.4,331.5 468.8,330.72 469.8,330.72 470.55,331.03 470.97,331.5 471.06,332.25 470.55,332.96 469.8,333.28 M423.8,341.76 422.05,341.9 420.3,341.47 419.01,340.5 418.47,339.25 418.61,338 419.38,336.75 420.8,335.68 422.55,335.08 424.3,334.99 426.05,335.47 427.08,336.25 427.68,337.5 427.58,338.75 426.8,340.08 425.55,341.08 423.8,341.76 M459.55,333.31 458.3,333.3 457.38,332.75 457.08,332 457.55,331.06 459.05,330.6 459.81,330.75 460.62,331.25 460.93,331.75 460.81,332.5 459.55,333.31 M423.3,341.5 421.3,341.42 419.88,340.75 419,339.5 419,338.25 419.8,336.88 421.3,335.84 423.3,335.34 425.05,335.53 426.08,336 426.84,336.75 427.2,337.75 427.09,338.75 426.55,339.75 425.77,340.5 424.55,341.17 423.3,341.5 M459.3,332.25 458.8,332.38 458.35,332 458.55,331.68 459.05,331.62 459.42,332 459.3,332.25 M423.8,341.07 422.55,341.23 421.3,341.05 420.22,340.5 419.58,339.75 419.37,339 419.53,338 420.2,337 421.05,336.36 422.55,335.79 424.05,335.71 425.55,336.17 426.44,337 426.74,338.25 426.3,339.42 425.3,340.4 423.8,341.07 M423.55,340.8 422.3,340.89 421.05,340.57 420.26,340 419.8,339 419.96,338 420.55,337.16 421.55,336.47 422.8,336.08 424.05,336.06 425.05,336.35 425.9,337 426.26,337.75 426.19,338.75 425.77,339.5 424.8,340.32 423.55,340.8 M423.3,340.54 422.05,340.54 421.05,340.16 420.4,339.5 420.23,338.5 420.71,337.5 421.55,336.83 422.8,336.39 424.05,336.4 425,336.75 425.55,337.24 425.84,338.5 425.04,339.75 423.3,340.54 M423.05,340.27 422.05,340.21 421.1,339.75 420.64,339 420.69,338.25 421.18,337.5 422.05,336.93 423.3,336.66 424.3,336.81 425.3,337.62 425.35,338.75 424.5,339.75 423.05,340.27 M423.8,339.79 422.55,339.98 421.37,339.5 421.01,338.75 421.4,337.75 422.06,337.25 423.05,336.97 424.55,337.33 424.92,337.75 425.03,338.5 424.61,339.25 423.8,339.79 M423.55,339.57 422.55,339.68 421.64,339.25 421.41,338.5 421.8,337.8 422.55,337.37 423.3,337.25 424.46,337.75 424.56,338.75 423.55,339.57 M423.55,339.27 422.8,339.41 422.05,339.15 421.78,338.5 422.04,338 423.05,337.55 423.93,337.75 424.26,338.5 423.55,339.27" fill="none" stroke="#000" stroke-width="0.62" stroke-linejoin="round"/>
<rect x="396.3" y="257.5" width="91.7" height="90.7" fill="none" stroke="#111" stroke-width="1.2"/>
<path d="M391.7,348.5H396.3M393.9,344.5H396.3M393.9,341.5H396.3M393.9,337.5H396.3M393.9,334.5H396.3M391.7,330.5H396.3M393.9,327.5H396.3M393.9,323.5H396.3M393.9,320.5H396.3M393.9,316.5H396.3M391.7,313.5H396.3M393.9,309.5H396.3M393.9,306.5H396.3M393.9,303.5H396.3M393.9,299.5H396.3M391.7,296.5H396.3M393.9,292.5H396.3M393.9,289.5H396.3M393.9,285.5H396.3M393.9,282.5H396.3M391.7,278.5H396.3M393.9,275.5H396.3M393.9,271.5H396.3M393.9,268.5H396.3M393.9,264.5H396.3M391.7,261.5H396.3M393.9,257.5H396.3M401.5,348.2V353M415.5,348.2V353M431.5,348.2V353M456.5,348.2V353M478.5,348.2V353M411.5,348.2V352M425.5,348.2V352M439.5,348.2V350.7M443.5,348.2V350.7M446.5,348.2V350.7M449.5,348.2V352M451.5,348.2V350.7M452.5,348.2V350.7M454.5,348.2V350.7M455.5,348.2V350.7M463.5,348.2V350.7M467.5,348.2V350.7M469.5,348.2V350.7M472.5,348.2V352M473.5,348.2V350.7M475.5,348.2V350.7M476.5,348.2V350.7M477.5,348.2V350.7M485.5,348.2V350.7" stroke="#111" stroke-width="1.1"/>
<rect x="400.8" y="348.2" width="32.3" height="2.3" fill="#111"/>
<path d="M437.6,346.3L442.4,290.2L487.5,290.2L487.5,346.3Z" fill="none" stroke="#111" stroke-width="1.2"/>
<text x="451.6" y="285.7" font-size="12" text-anchor="start" font-weight="normal" fill="#222" >45.8</text>
<text transform="translate(109.4,391) scale(0.63,1)" font-size="15" font-weight="normal" fill="#1a1a1a" stroke="#1a1a1a" stroke-width="0.55" >CD107a</text>
<line x1="149.4" y1="386.6" x2="172.5" y2="386.6" stroke="#111" stroke-width="1.2"/><path d="M177.5,386.6L170,383L170,390.2Z" fill="#111"/>
<text transform="translate(202.2,391) scale(0.71,1)" font-size="15" font-weight="normal" fill="#1a1a1a" stroke="#1a1a1a" stroke-width="0.55" >IFN-g</text>
<line x1="234.1" y1="386.4" x2="273.3" y2="386.4" stroke="#111" stroke-width="1.2"/><path d="M278.3,386.4L270.8,382.8L270.8,390Z" fill="#111"/>
<text transform="translate(301.4,391) scale(0.72,1)" font-size="15" font-weight="normal" fill="#1a1a1a" stroke="#1a1a1a" stroke-width="0.55" >IL-2</text>
<line x1="324.3" y1="386.4" x2="379.3" y2="386.4" stroke="#111" stroke-width="1.2"/><path d="M384.3,386.4L376.8,382.8L376.8,390Z" fill="#111"/>
<text transform="translate(416.6,391) scale(0.67,1)" font-size="15" font-weight="normal" fill="#1a1a1a" stroke="#1a1a1a" stroke-width="0.55" >TNF-a</text>
<line x1="450" y1="386.4" x2="483.3" y2="386.4" stroke="#111" stroke-width="1.2"/><path d="M488.3,386.4L480.8,382.8L480.8,390Z" fill="#111"/>
<line x1="500.6" y1="42" x2="500.6" y2="310.2" stroke="#111" stroke-width="1.2"/>
<path d="M500.6,37.6L504.5,46.6L500.6,45L496.7,46.6Z" fill="#111"/>
<text transform="translate(505.9,325) rotate(-90) scale(0.565,1)" font-size="16.5" text-anchor="middle" fill="#1a1a1a" stroke="#1a1a1a" stroke-width="0.55">SSC</text>
<text x="216.8" y="435.3" font-size="14.6" text-anchor="middle" font-weight="normal" fill="#222" textLength="160" lengthAdjust="spacingAndGlyphs">CCR4CART (KW_L2H)</text>
<path d="M89.2,449.8V626.0H347.2" fill="none" stroke="#111" stroke-width="1.5"/>
<path d="M84.0,625.8H89.2M84.0,597.1H89.2M84.0,568.4H89.2M84.0,539.7H89.2M84.0,511H89.2M84.0,482.3H89.2M84.0,453.6H89.2M128.5,626V630.4M188,626V630.4M247.5,626V630.4M306.9,626V630.4" stroke="#111" stroke-width="1.2"/>
<text x="79.4" y="630.2" font-size="12.4" text-anchor="end" font-weight="normal" fill="#222" textLength="23" lengthAdjust="spacingAndGlyphs">−10</text>
<text x="79.4" y="601.5" font-size="12.4" text-anchor="end" font-weight="normal" fill="#222" >0</text>
<text x="79.4" y="572.8" font-size="12.4" text-anchor="end" font-weight="normal" fill="#222" textLength="15.6" lengthAdjust="spacingAndGlyphs">10</text>
<text x="79.4" y="544.1" font-size="12.4" text-anchor="end" font-weight="normal" fill="#222" textLength="15.6" lengthAdjust="spacingAndGlyphs">20</text>
<text x="79.4" y="515.4" font-size="12.4" text-anchor="end" font-weight="normal" fill="#222" textLength="15.6" lengthAdjust="spacingAndGlyphs">30</text>
<text x="79.4" y="486.7" font-size="12.4" text-anchor="end" font-weight="normal" fill="#222" textLength="15.6" lengthAdjust="spacingAndGlyphs">40</text>
<text x="79.4" y="458" font-size="12.4" text-anchor="end" font-weight="normal" fill="#222" textLength="15.6" lengthAdjust="spacingAndGlyphs">50</text>
<text x="127.9" y="646.8" font-size="12.4" text-anchor="middle" font-weight="normal" fill="#222" >30:1</text>
<text x="187.4" y="646.8" font-size="12.4" text-anchor="middle" font-weight="normal" fill="#222" >10:1</text>
<text x="246.9" y="646.8" font-size="12.4" text-anchor="middle" font-weight="normal" fill="#222" >3:1</text>
<text x="306.3" y="646.8" font-size="12.4" text-anchor="middle" font-weight="normal" fill="#222" >1:1</text>
<text transform="translate(198,667.6) scale(0.69,1)" font-size="15.2" font-weight="normal" fill="#1a1a1a" stroke="#1a1a1a" stroke-width="0.55" >E:T ratio</text>
<text transform="translate(51.4,538.2) rotate(-90) scale(0.734,1)" font-size="14.8" text-anchor="middle" fill="#1a1a1a" stroke="#1a1a1a" stroke-width="0.55">Specific lysis (%)</text>
<line x1="91.95" y1="597.3" x2="346.5" y2="597.3" stroke="#000" stroke-width="1.5" stroke-dasharray="1.5 1.96"/>
<polyline points="128.5,584.47 188,590.5 247.5,595.38 306.9,597.1" fill="none" stroke="#c8c8c8" stroke-width="2.0" stroke-linejoin="round"/>
<path d="M123.3,579.27L133.7,589.67M123.3,589.67L133.7,579.27" stroke="#c8c8c8" stroke-width="1.5"/>
<path d="M182.8,585.3L193.2,595.7M182.8,595.7L193.2,585.3" stroke="#c8c8c8" stroke-width="1.5"/>
<path d="M242.3,590.18L252.7,600.58M242.3,600.58L252.7,590.18" stroke="#c8c8c8" stroke-width="1.5"/>
<path d="M301.7,591.9L312.1,602.3M301.7,602.3L312.1,591.9" stroke="#c8c8c8" stroke-width="1.5"/>
<path d="M128.5,477.13V513.87M123.5,477.13H133.5M123.5,513.87H133.5M188,521.91V555.2M183,521.91H193M183,555.2H193M247.5,515.31V544M242.5,515.31H252.5M242.5,544H252.5M306.9,585.33V625.8M301.9,585.33H311.9M301.9,625.8H311.9" fill="none" stroke="#b81440" stroke-width="1.7"/>
<polyline points="128.5,495.5 188,537.98 247.5,529.65 306.9,609.44" fill="none" stroke="#b81440" stroke-width="2.0" stroke-linejoin="round"/>
<circle cx="128.5" cy="495.5" r="5.2" fill="none" stroke="#b81440" stroke-width="1.7"/>
<circle cx="188" cy="537.98" r="5.2" fill="none" stroke="#b81440" stroke-width="1.7"/>
<circle cx="247.5" cy="529.65" r="5.2" fill="none" stroke="#b81440" stroke-width="1.7"/>
<circle cx="306.9" cy="609.44" r="5.2" fill="none" stroke="#b81440" stroke-width="1.7"/>
<path d="M128.5,463.93V488.04M123.5,463.93H133.5M123.5,488.04H133.5M188,541.13V558.93M183,541.13H193M183,558.93H193M247.5,575.58V583.04M242.5,575.58H252.5M242.5,583.04H252.5M306.9,585.62V596.53M301.9,585.62H311.9M301.9,596.53H311.9" fill="none" stroke="#163f70" stroke-width="1.7"/>
<polyline points="128.5,475.99 188,550.03 247.5,579.31 306.9,591.07" fill="none" stroke="#163f70" stroke-width="2.0" stroke-linejoin="round"/>
<path d="M128.5,470.69L133.8,475.99L128.5,481.29L123.2,475.99Z" fill="none" stroke="#163f70" stroke-width="1.7"/>
<path d="M188,544.73L193.3,550.03L188,555.33L182.7,550.03Z" fill="none" stroke="#163f70" stroke-width="1.7"/>
<path d="M247.5,574.01L252.8,579.31L247.5,584.61L242.2,579.31Z" fill="none" stroke="#163f70" stroke-width="1.7"/>
<path d="M306.9,585.77L312.2,591.07L306.9,596.37L301.6,591.07Z" fill="none" stroke="#163f70" stroke-width="1.7"/>
<line x1="352.4" y1="519.3" x2="370.5" y2="519.3" stroke="#c8c8c8" stroke-width="1.8"/>
<path d="M356.2,514.2L366.6,524.6M356.2,524.6L366.6,514.2" stroke="#c8c8c8" stroke-width="1.5"/>
<text x="375" y="523.7" font-size="12" text-anchor="start" font-weight="normal" fill="#222" textLength="29" lengthAdjust="spacingAndGlyphs">K562</text>
<line x1="352.4" y1="537.8" x2="370.5" y2="537.8" stroke="#163f70" stroke-width="1.8"/>
<path d="M361.4,532.4L366.7,537.7L361.4,543L356.1,537.7Z" fill="none" stroke="#163f70" stroke-width="1.7"/>
<text x="375.4" y="541.8" font-size="12" text-anchor="start" font-weight="normal" fill="#222" textLength="18" lengthAdjust="spacing">HH</text>
<line x1="352.4" y1="555.7" x2="370.5" y2="555.7" stroke="#b81440" stroke-width="1.8"/>
<circle cx="361.3" cy="555.7" r="5.2" fill="none" stroke="#b81440" stroke-width="1.7"/>
<text x="375" y="560" font-size="12" text-anchor="start" font-weight="normal" fill="#222" textLength="98.6" lengthAdjust="spacingAndGlyphs">Primary CTCL cells</text>
<rect x="0.5" y="0.5" width="519" height="682" fill="none" stroke="#222" stroke-width="1.2"/>
</svg></body></html>
